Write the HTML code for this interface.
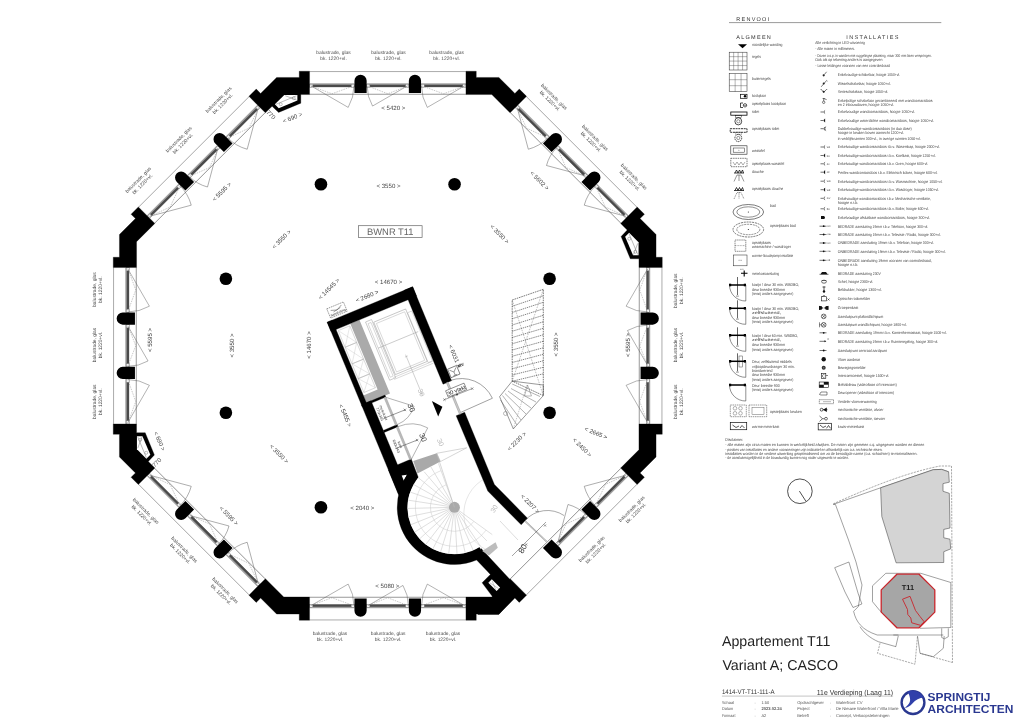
<!DOCTYPE html>
<html><head><meta charset="utf-8"><style>
html,body{margin:0;padding:0;background:#fff;overflow:hidden;width:1018px;height:720px;}
svg{display:block;font-family:"Liberation Sans",sans-serif;text-rendering:geometricPrecision;will-change:transform;}
</style></head><body>
<svg width="1018" height="720" viewBox="0 0 1018 720">
<rect width="1018" height="720" fill="#fff"/>
<g transform="translate(387.75,345.75) rotate(0)">
<line x1="-78.2" y1="-274.2" x2="78.2" y2="-274.2" stroke="#666" stroke-width="0.55"/>
<line x1="-78.2" y1="-251.5" x2="78.2" y2="-251.5" stroke="#444" stroke-width="0.55"/>
<rect x="-78.2" y="-262.45" width="44.900000000000006" height="3.9" fill="#a0a0a0"/>
<rect x="-78.2" y="-261.0" width="44.900000000000006" height="2.3" fill="#4a4a4a"/>
<rect x="-78.2" y="-261.5" width="3.2" height="3.0" fill="#f4f4f4" stroke="#777" stroke-width="0.4"/>
<rect x="-36.5" y="-261.5" width="3.2" height="3.0" fill="#f4f4f4" stroke="#777" stroke-width="0.4"/>
<path d="M-76.70,-259.8 L-39.55,-238.35 A42.90,42.90 0 0 0 -33.80,-259.8" fill="none" stroke="#555" stroke-width="0.45"/>
<path d="M-77.20,-259.8 L-55.75,-252.0 L-34.30,-259.8" fill="none" stroke="#777" stroke-width="0.4" stroke-dasharray="1.5,1"/>
<rect x="-21.1" y="-262.45" width="42.2" height="3.9" fill="#a0a0a0"/>
<rect x="-21.1" y="-261.0" width="42.2" height="2.3" fill="#4a4a4a"/>
<rect x="-21.1" y="-261.5" width="3.2" height="3.0" fill="#f4f4f4" stroke="#777" stroke-width="0.4"/>
<rect x="17.9" y="-261.5" width="3.2" height="3.0" fill="#f4f4f4" stroke="#777" stroke-width="0.4"/>
<path d="M19.60,-259.8 L-15.21,-239.70 A40.20,40.20 0 0 1 -20.60,-259.8" fill="none" stroke="#555" stroke-width="0.45"/>
<path d="M-20.10,-259.8 L0.00,-252.0 L20.10,-259.8" fill="none" stroke="#777" stroke-width="0.4" stroke-dasharray="1.5,1"/>
<rect x="33.3" y="-262.45" width="44.900000000000006" height="3.9" fill="#a0a0a0"/>
<rect x="33.3" y="-261.0" width="44.900000000000006" height="2.3" fill="#4a4a4a"/>
<rect x="33.3" y="-261.5" width="3.2" height="3.0" fill="#f4f4f4" stroke="#777" stroke-width="0.4"/>
<rect x="75.00000000000001" y="-261.5" width="3.2" height="3.0" fill="#f4f4f4" stroke="#777" stroke-width="0.4"/>
<path d="M76.70,-259.8 L39.55,-238.35 A42.90,42.90 0 0 1 33.80,-259.8" fill="none" stroke="#555" stroke-width="0.45"/>
<path d="M34.30,-259.8 L55.75,-252.0 L77.20,-259.8" fill="none" stroke="#777" stroke-width="0.4" stroke-dasharray="1.5,1"/>
<path d="M-33.3,-252.79999999999998 L-33.3,-265 A6.1,6.1 0 0 1 -21.1,-265 L-21.1,-252.79999999999998 Z" fill="#000"/>
<path d="M21.1,-252.79999999999998 L21.1,-265 A6.1,6.1 0 0 1 33.3,-265 L33.3,-252.79999999999998 Z" fill="#000"/>
</g>
<g transform="translate(387.75,345.75) rotate(45)">
<line x1="-78.2" y1="-274.2" x2="78.2" y2="-274.2" stroke="#666" stroke-width="0.55"/>
<line x1="-78.2" y1="-251.5" x2="78.2" y2="-251.5" stroke="#444" stroke-width="0.55"/>
<rect x="-78.2" y="-262.45" width="44.900000000000006" height="3.9" fill="#a0a0a0"/>
<rect x="-78.2" y="-261.0" width="44.900000000000006" height="2.3" fill="#4a4a4a"/>
<rect x="-78.2" y="-261.5" width="3.2" height="3.0" fill="#f4f4f4" stroke="#777" stroke-width="0.4"/>
<rect x="-36.5" y="-261.5" width="3.2" height="3.0" fill="#f4f4f4" stroke="#777" stroke-width="0.4"/>
<path d="M-76.70,-259.8 L-39.55,-238.35 A42.90,42.90 0 0 0 -33.80,-259.8" fill="none" stroke="#555" stroke-width="0.45"/>
<path d="M-77.20,-259.8 L-55.75,-252.0 L-34.30,-259.8" fill="none" stroke="#777" stroke-width="0.4" stroke-dasharray="1.5,1"/>
<rect x="-21.1" y="-262.45" width="42.2" height="3.9" fill="#a0a0a0"/>
<rect x="-21.1" y="-261.0" width="42.2" height="2.3" fill="#4a4a4a"/>
<rect x="-21.1" y="-261.5" width="3.2" height="3.0" fill="#f4f4f4" stroke="#777" stroke-width="0.4"/>
<rect x="17.9" y="-261.5" width="3.2" height="3.0" fill="#f4f4f4" stroke="#777" stroke-width="0.4"/>
<path d="M19.60,-259.8 L-15.21,-239.70 A40.20,40.20 0 0 1 -20.60,-259.8" fill="none" stroke="#555" stroke-width="0.45"/>
<path d="M-20.10,-259.8 L0.00,-252.0 L20.10,-259.8" fill="none" stroke="#777" stroke-width="0.4" stroke-dasharray="1.5,1"/>
<rect x="33.3" y="-262.45" width="44.900000000000006" height="3.9" fill="#a0a0a0"/>
<rect x="33.3" y="-261.0" width="44.900000000000006" height="2.3" fill="#4a4a4a"/>
<rect x="33.3" y="-261.5" width="3.2" height="3.0" fill="#f4f4f4" stroke="#777" stroke-width="0.4"/>
<rect x="75.00000000000001" y="-261.5" width="3.2" height="3.0" fill="#f4f4f4" stroke="#777" stroke-width="0.4"/>
<path d="M76.70,-259.8 L39.55,-238.35 A42.90,42.90 0 0 1 33.80,-259.8" fill="none" stroke="#555" stroke-width="0.45"/>
<path d="M34.30,-259.8 L55.75,-252.0 L77.20,-259.8" fill="none" stroke="#777" stroke-width="0.4" stroke-dasharray="1.5,1"/>
<path d="M-33.3,-252.79999999999998 L-33.3,-265 A6.1,6.1 0 0 1 -21.1,-265 L-21.1,-252.79999999999998 Z" fill="#000"/>
<path d="M21.1,-252.79999999999998 L21.1,-265 A6.1,6.1 0 0 1 33.3,-265 L33.3,-252.79999999999998 Z" fill="#000"/>
</g>
<g transform="translate(387.75,345.75) rotate(90)">
<line x1="-78.2" y1="-274.2" x2="78.2" y2="-274.2" stroke="#666" stroke-width="0.55"/>
<line x1="-78.2" y1="-251.5" x2="78.2" y2="-251.5" stroke="#444" stroke-width="0.55"/>
<rect x="-78.2" y="-262.45" width="44.900000000000006" height="3.9" fill="#a0a0a0"/>
<rect x="-78.2" y="-261.0" width="44.900000000000006" height="2.3" fill="#4a4a4a"/>
<rect x="-78.2" y="-261.5" width="3.2" height="3.0" fill="#f4f4f4" stroke="#777" stroke-width="0.4"/>
<rect x="-36.5" y="-261.5" width="3.2" height="3.0" fill="#f4f4f4" stroke="#777" stroke-width="0.4"/>
<path d="M-76.70,-259.8 L-39.55,-238.35 A42.90,42.90 0 0 0 -33.80,-259.8" fill="none" stroke="#555" stroke-width="0.45"/>
<path d="M-77.20,-259.8 L-55.75,-252.0 L-34.30,-259.8" fill="none" stroke="#777" stroke-width="0.4" stroke-dasharray="1.5,1"/>
<rect x="-21.1" y="-262.45" width="42.2" height="3.9" fill="#a0a0a0"/>
<rect x="-21.1" y="-261.0" width="42.2" height="2.3" fill="#4a4a4a"/>
<rect x="-21.1" y="-261.5" width="3.2" height="3.0" fill="#f4f4f4" stroke="#777" stroke-width="0.4"/>
<rect x="17.9" y="-261.5" width="3.2" height="3.0" fill="#f4f4f4" stroke="#777" stroke-width="0.4"/>
<path d="M19.60,-259.8 L-15.21,-239.70 A40.20,40.20 0 0 1 -20.60,-259.8" fill="none" stroke="#555" stroke-width="0.45"/>
<path d="M-20.10,-259.8 L0.00,-252.0 L20.10,-259.8" fill="none" stroke="#777" stroke-width="0.4" stroke-dasharray="1.5,1"/>
<rect x="33.3" y="-262.45" width="44.900000000000006" height="3.9" fill="#a0a0a0"/>
<rect x="33.3" y="-261.0" width="44.900000000000006" height="2.3" fill="#4a4a4a"/>
<rect x="33.3" y="-261.5" width="3.2" height="3.0" fill="#f4f4f4" stroke="#777" stroke-width="0.4"/>
<rect x="75.00000000000001" y="-261.5" width="3.2" height="3.0" fill="#f4f4f4" stroke="#777" stroke-width="0.4"/>
<path d="M76.70,-259.8 L39.55,-238.35 A42.90,42.90 0 0 1 33.80,-259.8" fill="none" stroke="#555" stroke-width="0.45"/>
<path d="M34.30,-259.8 L55.75,-252.0 L77.20,-259.8" fill="none" stroke="#777" stroke-width="0.4" stroke-dasharray="1.5,1"/>
<path d="M-33.3,-252.79999999999998 L-33.3,-265 A6.1,6.1 0 0 1 -21.1,-265 L-21.1,-252.79999999999998 Z" fill="#000"/>
<path d="M21.1,-252.79999999999998 L21.1,-265 A6.1,6.1 0 0 1 33.3,-265 L33.3,-252.79999999999998 Z" fill="#000"/>
</g>
<g transform="translate(387.75,345.75) rotate(135)">
<line x1="-78.2" y1="-274.2" x2="78.2" y2="-274.2" stroke="#666" stroke-width="0.55"/>
<line x1="-78.2" y1="-251.5" x2="78.2" y2="-251.5" stroke="#444" stroke-width="0.55"/>
<rect x="-78.2" y="-262.45" width="44.900000000000006" height="3.9" fill="#a0a0a0"/>
<rect x="-78.2" y="-261.0" width="44.900000000000006" height="2.3" fill="#4a4a4a"/>
<rect x="-78.2" y="-261.5" width="3.2" height="3.0" fill="#f4f4f4" stroke="#777" stroke-width="0.4"/>
<rect x="-36.5" y="-261.5" width="3.2" height="3.0" fill="#f4f4f4" stroke="#777" stroke-width="0.4"/>
<path d="M-76.70,-259.8 L-39.55,-238.35 A42.90,42.90 0 0 0 -33.80,-259.8" fill="none" stroke="#555" stroke-width="0.45"/>
<path d="M-77.20,-259.8 L-55.75,-252.0 L-34.30,-259.8" fill="none" stroke="#777" stroke-width="0.4" stroke-dasharray="1.5,1"/>
<rect x="-21.1" y="-262.45" width="42.2" height="3.9" fill="#a0a0a0"/>
<rect x="-21.1" y="-261.0" width="42.2" height="2.3" fill="#4a4a4a"/>
<rect x="-21.1" y="-261.5" width="3.2" height="3.0" fill="#f4f4f4" stroke="#777" stroke-width="0.4"/>
<rect x="17.9" y="-261.5" width="3.2" height="3.0" fill="#f4f4f4" stroke="#777" stroke-width="0.4"/>
<path d="M19.60,-259.8 L-15.21,-239.70 A40.20,40.20 0 0 1 -20.60,-259.8" fill="none" stroke="#555" stroke-width="0.45"/>
<path d="M-20.10,-259.8 L0.00,-252.0 L20.10,-259.8" fill="none" stroke="#777" stroke-width="0.4" stroke-dasharray="1.5,1"/>
<path d="M-33.3,-252.79999999999998 L-33.3,-265 A6.1,6.1 0 0 1 -21.1,-265 L-21.1,-252.79999999999998 Z" fill="#000"/>
<path d="M21.1,-252.79999999999998 L21.1,-265 A6.1,6.1 0 0 1 33.3,-265 L33.3,-252.79999999999998 Z" fill="#000"/>
</g>
<g transform="translate(387.75,345.75) rotate(180)">
<line x1="-78.2" y1="-274.2" x2="78.2" y2="-274.2" stroke="#666" stroke-width="0.55"/>
<line x1="-78.2" y1="-251.5" x2="78.2" y2="-251.5" stroke="#444" stroke-width="0.55"/>
<rect x="-78.2" y="-262.45" width="44.900000000000006" height="3.9" fill="#a0a0a0"/>
<rect x="-78.2" y="-261.0" width="44.900000000000006" height="2.3" fill="#4a4a4a"/>
<rect x="-78.2" y="-261.5" width="3.2" height="3.0" fill="#f4f4f4" stroke="#777" stroke-width="0.4"/>
<rect x="-36.5" y="-261.5" width="3.2" height="3.0" fill="#f4f4f4" stroke="#777" stroke-width="0.4"/>
<path d="M-76.70,-259.8 L-39.55,-238.35 A42.90,42.90 0 0 0 -33.80,-259.8" fill="none" stroke="#555" stroke-width="0.45"/>
<path d="M-77.20,-259.8 L-55.75,-252.0 L-34.30,-259.8" fill="none" stroke="#777" stroke-width="0.4" stroke-dasharray="1.5,1"/>
<rect x="-21.1" y="-262.45" width="42.2" height="3.9" fill="#a0a0a0"/>
<rect x="-21.1" y="-261.0" width="42.2" height="2.3" fill="#4a4a4a"/>
<rect x="-21.1" y="-261.5" width="3.2" height="3.0" fill="#f4f4f4" stroke="#777" stroke-width="0.4"/>
<rect x="17.9" y="-261.5" width="3.2" height="3.0" fill="#f4f4f4" stroke="#777" stroke-width="0.4"/>
<path d="M19.60,-259.8 L-15.21,-239.70 A40.20,40.20 0 0 1 -20.60,-259.8" fill="none" stroke="#555" stroke-width="0.45"/>
<path d="M-20.10,-259.8 L0.00,-252.0 L20.10,-259.8" fill="none" stroke="#777" stroke-width="0.4" stroke-dasharray="1.5,1"/>
<rect x="33.3" y="-262.45" width="44.900000000000006" height="3.9" fill="#a0a0a0"/>
<rect x="33.3" y="-261.0" width="44.900000000000006" height="2.3" fill="#4a4a4a"/>
<rect x="33.3" y="-261.5" width="3.2" height="3.0" fill="#f4f4f4" stroke="#777" stroke-width="0.4"/>
<rect x="75.00000000000001" y="-261.5" width="3.2" height="3.0" fill="#f4f4f4" stroke="#777" stroke-width="0.4"/>
<path d="M76.70,-259.8 L39.55,-238.35 A42.90,42.90 0 0 1 33.80,-259.8" fill="none" stroke="#555" stroke-width="0.45"/>
<path d="M34.30,-259.8 L55.75,-252.0 L77.20,-259.8" fill="none" stroke="#777" stroke-width="0.4" stroke-dasharray="1.5,1"/>
<path d="M-33.3,-252.79999999999998 L-33.3,-265 A6.1,6.1 0 0 1 -21.1,-265 L-21.1,-252.79999999999998 Z" fill="#000"/>
<path d="M21.1,-252.79999999999998 L21.1,-265 A6.1,6.1 0 0 1 33.3,-265 L33.3,-252.79999999999998 Z" fill="#000"/>
</g>
<g transform="translate(387.75,345.75) rotate(225)">
<line x1="-78.2" y1="-274.2" x2="78.2" y2="-274.2" stroke="#666" stroke-width="0.55"/>
<line x1="-78.2" y1="-251.5" x2="78.2" y2="-251.5" stroke="#444" stroke-width="0.55"/>
<rect x="-78.2" y="-262.45" width="44.900000000000006" height="3.9" fill="#a0a0a0"/>
<rect x="-78.2" y="-261.0" width="44.900000000000006" height="2.3" fill="#4a4a4a"/>
<rect x="-78.2" y="-261.5" width="3.2" height="3.0" fill="#f4f4f4" stroke="#777" stroke-width="0.4"/>
<rect x="-36.5" y="-261.5" width="3.2" height="3.0" fill="#f4f4f4" stroke="#777" stroke-width="0.4"/>
<path d="M-76.70,-259.8 L-39.55,-238.35 A42.90,42.90 0 0 0 -33.80,-259.8" fill="none" stroke="#555" stroke-width="0.45"/>
<path d="M-77.20,-259.8 L-55.75,-252.0 L-34.30,-259.8" fill="none" stroke="#777" stroke-width="0.4" stroke-dasharray="1.5,1"/>
<rect x="-21.1" y="-262.45" width="42.2" height="3.9" fill="#a0a0a0"/>
<rect x="-21.1" y="-261.0" width="42.2" height="2.3" fill="#4a4a4a"/>
<rect x="-21.1" y="-261.5" width="3.2" height="3.0" fill="#f4f4f4" stroke="#777" stroke-width="0.4"/>
<rect x="17.9" y="-261.5" width="3.2" height="3.0" fill="#f4f4f4" stroke="#777" stroke-width="0.4"/>
<path d="M19.60,-259.8 L-15.21,-239.70 A40.20,40.20 0 0 1 -20.60,-259.8" fill="none" stroke="#555" stroke-width="0.45"/>
<path d="M-20.10,-259.8 L0.00,-252.0 L20.10,-259.8" fill="none" stroke="#777" stroke-width="0.4" stroke-dasharray="1.5,1"/>
<rect x="33.3" y="-262.45" width="44.900000000000006" height="3.9" fill="#a0a0a0"/>
<rect x="33.3" y="-261.0" width="44.900000000000006" height="2.3" fill="#4a4a4a"/>
<rect x="33.3" y="-261.5" width="3.2" height="3.0" fill="#f4f4f4" stroke="#777" stroke-width="0.4"/>
<rect x="75.00000000000001" y="-261.5" width="3.2" height="3.0" fill="#f4f4f4" stroke="#777" stroke-width="0.4"/>
<path d="M76.70,-259.8 L39.55,-238.35 A42.90,42.90 0 0 1 33.80,-259.8" fill="none" stroke="#555" stroke-width="0.45"/>
<path d="M34.30,-259.8 L55.75,-252.0 L77.20,-259.8" fill="none" stroke="#777" stroke-width="0.4" stroke-dasharray="1.5,1"/>
<path d="M-33.3,-252.79999999999998 L-33.3,-265 A6.1,6.1 0 0 1 -21.1,-265 L-21.1,-252.79999999999998 Z" fill="#000"/>
<path d="M21.1,-252.79999999999998 L21.1,-265 A6.1,6.1 0 0 1 33.3,-265 L33.3,-252.79999999999998 Z" fill="#000"/>
</g>
<g transform="translate(387.75,345.75) rotate(270)">
<line x1="-78.2" y1="-274.2" x2="78.2" y2="-274.2" stroke="#666" stroke-width="0.55"/>
<line x1="-78.2" y1="-251.5" x2="78.2" y2="-251.5" stroke="#444" stroke-width="0.55"/>
<rect x="-78.2" y="-262.45" width="44.900000000000006" height="3.9" fill="#a0a0a0"/>
<rect x="-78.2" y="-261.0" width="44.900000000000006" height="2.3" fill="#4a4a4a"/>
<rect x="-78.2" y="-261.5" width="3.2" height="3.0" fill="#f4f4f4" stroke="#777" stroke-width="0.4"/>
<rect x="-36.5" y="-261.5" width="3.2" height="3.0" fill="#f4f4f4" stroke="#777" stroke-width="0.4"/>
<path d="M-76.70,-259.8 L-39.55,-238.35 A42.90,42.90 0 0 0 -33.80,-259.8" fill="none" stroke="#555" stroke-width="0.45"/>
<path d="M-77.20,-259.8 L-55.75,-252.0 L-34.30,-259.8" fill="none" stroke="#777" stroke-width="0.4" stroke-dasharray="1.5,1"/>
<rect x="-21.1" y="-262.45" width="42.2" height="3.9" fill="#a0a0a0"/>
<rect x="-21.1" y="-261.0" width="42.2" height="2.3" fill="#4a4a4a"/>
<rect x="-21.1" y="-261.5" width="3.2" height="3.0" fill="#f4f4f4" stroke="#777" stroke-width="0.4"/>
<rect x="17.9" y="-261.5" width="3.2" height="3.0" fill="#f4f4f4" stroke="#777" stroke-width="0.4"/>
<path d="M19.60,-259.8 L-15.21,-239.70 A40.20,40.20 0 0 1 -20.60,-259.8" fill="none" stroke="#555" stroke-width="0.45"/>
<path d="M-20.10,-259.8 L0.00,-252.0 L20.10,-259.8" fill="none" stroke="#777" stroke-width="0.4" stroke-dasharray="1.5,1"/>
<rect x="33.3" y="-262.45" width="44.900000000000006" height="3.9" fill="#a0a0a0"/>
<rect x="33.3" y="-261.0" width="44.900000000000006" height="2.3" fill="#4a4a4a"/>
<rect x="33.3" y="-261.5" width="3.2" height="3.0" fill="#f4f4f4" stroke="#777" stroke-width="0.4"/>
<rect x="75.00000000000001" y="-261.5" width="3.2" height="3.0" fill="#f4f4f4" stroke="#777" stroke-width="0.4"/>
<path d="M76.70,-259.8 L39.55,-238.35 A42.90,42.90 0 0 1 33.80,-259.8" fill="none" stroke="#555" stroke-width="0.45"/>
<path d="M34.30,-259.8 L55.75,-252.0 L77.20,-259.8" fill="none" stroke="#777" stroke-width="0.4" stroke-dasharray="1.5,1"/>
<path d="M-33.3,-252.79999999999998 L-33.3,-265 A6.1,6.1 0 0 1 -21.1,-265 L-21.1,-252.79999999999998 Z" fill="#000"/>
<path d="M21.1,-252.79999999999998 L21.1,-265 A6.1,6.1 0 0 1 33.3,-265 L33.3,-252.79999999999998 Z" fill="#000"/>
</g>
<g transform="translate(387.75,345.75) rotate(315)">
<line x1="-78.2" y1="-274.2" x2="78.2" y2="-274.2" stroke="#666" stroke-width="0.55"/>
<line x1="-78.2" y1="-251.5" x2="78.2" y2="-251.5" stroke="#444" stroke-width="0.55"/>
<rect x="-78.2" y="-262.45" width="44.900000000000006" height="3.9" fill="#a0a0a0"/>
<rect x="-78.2" y="-261.0" width="44.900000000000006" height="2.3" fill="#4a4a4a"/>
<rect x="-78.2" y="-261.5" width="3.2" height="3.0" fill="#f4f4f4" stroke="#777" stroke-width="0.4"/>
<rect x="-36.5" y="-261.5" width="3.2" height="3.0" fill="#f4f4f4" stroke="#777" stroke-width="0.4"/>
<path d="M-76.70,-259.8 L-39.55,-238.35 A42.90,42.90 0 0 0 -33.80,-259.8" fill="none" stroke="#555" stroke-width="0.45"/>
<path d="M-77.20,-259.8 L-55.75,-252.0 L-34.30,-259.8" fill="none" stroke="#777" stroke-width="0.4" stroke-dasharray="1.5,1"/>
<rect x="-21.1" y="-262.45" width="42.2" height="3.9" fill="#a0a0a0"/>
<rect x="-21.1" y="-261.0" width="42.2" height="2.3" fill="#4a4a4a"/>
<rect x="-21.1" y="-261.5" width="3.2" height="3.0" fill="#f4f4f4" stroke="#777" stroke-width="0.4"/>
<rect x="17.9" y="-261.5" width="3.2" height="3.0" fill="#f4f4f4" stroke="#777" stroke-width="0.4"/>
<path d="M19.60,-259.8 L-15.21,-239.70 A40.20,40.20 0 0 1 -20.60,-259.8" fill="none" stroke="#555" stroke-width="0.45"/>
<path d="M-20.10,-259.8 L0.00,-252.0 L20.10,-259.8" fill="none" stroke="#777" stroke-width="0.4" stroke-dasharray="1.5,1"/>
<rect x="33.3" y="-262.45" width="44.900000000000006" height="3.9" fill="#a0a0a0"/>
<rect x="33.3" y="-261.0" width="44.900000000000006" height="2.3" fill="#4a4a4a"/>
<rect x="33.3" y="-261.5" width="3.2" height="3.0" fill="#f4f4f4" stroke="#777" stroke-width="0.4"/>
<rect x="75.00000000000001" y="-261.5" width="3.2" height="3.0" fill="#f4f4f4" stroke="#777" stroke-width="0.4"/>
<path d="M76.70,-259.8 L39.55,-238.35 A42.90,42.90 0 0 1 33.80,-259.8" fill="none" stroke="#555" stroke-width="0.45"/>
<path d="M34.30,-259.8 L55.75,-252.0 L77.20,-259.8" fill="none" stroke="#777" stroke-width="0.4" stroke-dasharray="1.5,1"/>
<path d="M-33.3,-252.79999999999998 L-33.3,-265 A6.1,6.1 0 0 1 -21.1,-265 L-21.1,-252.79999999999998 Z" fill="#000"/>
<path d="M21.1,-252.79999999999998 L21.1,-265 A6.1,6.1 0 0 1 33.3,-265 L33.3,-252.79999999999998 Z" fill="#000"/>
</g>
<polygon points="465.95,71.25 476.25,71.25 476.25,77.45 498.88,77.45 514.89,93.45 519.27,89.07 526.56,96.35 510.08,112.83 491.80,94.55 465.95,94.55" fill="#000" stroke="#000" stroke-width="0.3"/>
<polygon points="637.15,206.94 644.43,214.23 640.05,218.61 656.05,234.62 656.05,257.25 662.25,257.25 662.25,267.55 638.95,267.55 638.95,258.80 630.30,258.80 621.10,236.60 627.20,230.10 620.67,223.42" fill="#000" stroke="#000" stroke-width="0.3"/>
<polygon points="662.25,423.95 662.25,434.25 656.05,434.25 656.05,456.88 640.05,472.89 644.43,477.27 637.15,484.56 620.67,468.08 638.95,449.80 638.95,423.95" fill="#000" stroke="#000" stroke-width="0.3"/>
<polygon points="526.56,595.15 519.27,602.43 514.89,598.05 498.88,614.05 476.25,614.05 476.25,620.25 465.95,620.25 465.95,596.95 491.80,596.95 510.08,578.67" fill="#000" stroke="#000" stroke-width="0.3"/>
<polygon points="309.55,620.25 299.25,620.25 299.25,614.05 276.62,614.05 260.61,598.05 256.23,602.43 248.94,595.15 265.42,578.67 283.70,596.95 309.55,596.95" fill="#000" stroke="#000" stroke-width="0.3"/>
<polygon points="138.35,484.56 131.07,477.27 135.45,472.89 119.45,456.88 119.45,434.25 113.25,434.25 113.25,423.95 136.55,423.95 136.55,432.70 145.20,432.70 154.40,454.90 148.30,461.40 154.83,468.08" fill="#000" stroke="#000" stroke-width="0.3"/>
<polygon points="113.25,267.55 113.25,257.25 119.45,257.25 119.45,234.62 135.45,218.61 131.07,214.23 138.35,206.94 154.83,223.42 136.55,241.70 136.55,267.55" fill="#000" stroke="#000" stroke-width="0.3"/>
<polygon points="248.94,96.35 256.23,89.07 260.61,93.45 276.62,77.45 299.25,77.45 299.25,71.25 309.55,71.25 309.55,94.55 300.80,94.55 300.80,103.20 278.60,112.40 272.10,106.30 265.42,112.83" fill="#000" stroke="#000" stroke-width="0.3"/>
<g transform="translate(387.75,345.75) rotate(0)">
<polygon points="-103.45,-250.80 -90.40,-250.80 -90.40,-245.30 -109.00,-237.40 -112.90,-241.40" fill="#fff"/>
<path d="M-102.45,-250.00 L-91.20,-245.80 M-91.20,-250.00 L-111.90,-241.40" stroke="#666" stroke-width="0.45" fill="none"/>
<circle cx="-94" cy="-247.5" r="1.5" fill="none" stroke="#666" stroke-width="0.4"/>
<circle cx="-107" cy="-241.5" r="1.5" fill="none" stroke="#666" stroke-width="0.4"/>
</g>
<text transform="translate(271.00,114.70) rotate(45)" x="0" y="2.1" font-size="6.0" fill="#444" text-anchor="middle">770</text>
<text transform="translate(292.40,117.70) rotate(-22.5)" x="0" y="2.1" font-size="6.0" fill="#444" text-anchor="middle">&lt; 690 &gt;</text>
<g transform="translate(387.75,345.75) rotate(90)">
<polygon points="-103.45,-250.80 -90.40,-250.80 -90.40,-245.30 -109.00,-237.40 -112.90,-241.40" fill="#fff"/>
<path d="M-102.45,-250.00 L-91.20,-245.80 M-91.20,-250.00 L-111.90,-241.40" stroke="#666" stroke-width="0.45" fill="none"/>
<circle cx="-94" cy="-247.5" r="1.5" fill="none" stroke="#666" stroke-width="0.4"/>
<circle cx="-107" cy="-241.5" r="1.5" fill="none" stroke="#666" stroke-width="0.4"/>
</g>
<g transform="translate(387.75,345.75) rotate(270)">
<polygon points="-103.45,-250.80 -90.40,-250.80 -90.40,-245.30 -109.00,-237.40 -112.90,-241.40" fill="#fff"/>
<path d="M-102.45,-250.00 L-91.20,-245.80 M-91.20,-250.00 L-111.90,-241.40" stroke="#666" stroke-width="0.45" fill="none"/>
<circle cx="-94" cy="-247.5" r="1.5" fill="none" stroke="#666" stroke-width="0.4"/>
<circle cx="-107" cy="-241.5" r="1.5" fill="none" stroke="#666" stroke-width="0.4"/>
</g>
<text transform="translate(156.70,462.50) rotate(-45)" x="0" y="2.1" font-size="6.0" fill="#444" text-anchor="middle">770</text>
<text transform="translate(159.70,441.10) rotate(67.5)" x="0" y="2.1" font-size="6.0" fill="#444" text-anchor="middle">&lt; 690 &gt;</text>
<g transform="translate(333.50,54.95) rotate(0)" font-size="4.9" fill="#4a4a4a" text-anchor="middle"><text x="0" y="-1.3">balustrade, glas</text><text x="0" y="4.6">bk. 1220+vl.</text></g>
<g transform="translate(388.40,54.95) rotate(0)" font-size="4.9" fill="#4a4a4a" text-anchor="middle"><text x="0" y="-1.3">balustrade, glas</text><text x="0" y="4.6">bk. 1220+vl.</text></g>
<g transform="translate(446.60,54.95) rotate(0)" font-size="4.9" fill="#4a4a4a" text-anchor="middle"><text x="0" y="-1.3">balustrade, glas</text><text x="0" y="4.6">bk. 1220+vl.</text></g>
<g transform="translate(552.01,98.76) rotate(45)" font-size="4.9" fill="#4a4a4a" text-anchor="middle"><text x="0" y="-1.3">balustrade, glas</text><text x="0" y="4.6">bk. 1220+vl.</text></g>
<g transform="translate(593.02,139.77) rotate(45)" font-size="4.9" fill="#4a4a4a" text-anchor="middle"><text x="0" y="-1.3">balustrade, glas</text><text x="0" y="4.6">bk. 1220+vl.</text></g>
<g transform="translate(631.91,178.66) rotate(45)" font-size="4.9" fill="#4a4a4a" text-anchor="middle"><text x="0" y="-1.3">balustrade, glas</text><text x="0" y="4.6">bk. 1220+vl.</text></g>
<g transform="translate(678.55,290.70) rotate(-90)" font-size="4.9" fill="#4a4a4a" text-anchor="middle"><text x="0" y="-1.3">balustrade, glas</text><text x="0" y="4.6">bk. 1220+vl.</text></g>
<g transform="translate(678.55,345.00) rotate(-90)" font-size="4.9" fill="#4a4a4a" text-anchor="middle"><text x="0" y="-1.3">balustrade, glas</text><text x="0" y="4.6">bk. 1220+vl.</text></g>
<g transform="translate(678.55,401.70) rotate(-90)" font-size="4.9" fill="#4a4a4a" text-anchor="middle"><text x="0" y="-1.3">balustrade, glas</text><text x="0" y="4.6">bk. 1220+vl.</text></g>
<g transform="translate(633.75,511.00) rotate(-45)" font-size="4.9" fill="#4a4a4a" text-anchor="middle"><text x="0" y="-1.3">balustrade, glas</text><text x="0" y="4.6">bk. 1220+vl.</text></g>
<g transform="translate(593.73,551.02) rotate(-45)" font-size="4.9" fill="#4a4a4a" text-anchor="middle"><text x="0" y="-1.3">balustrade, glas</text><text x="0" y="4.6">bk. 1220+vl.</text></g>
<g transform="translate(443.00,636.55) rotate(0)" font-size="4.9" fill="#4a4a4a" text-anchor="middle"><text x="0" y="-1.3">balustrade, glas</text><text x="0" y="4.6">bk. 1220+vl.</text></g>
<g transform="translate(388.10,636.55) rotate(0)" font-size="4.9" fill="#4a4a4a" text-anchor="middle"><text x="0" y="-1.3">balustrade, glas</text><text x="0" y="4.6">bk. 1220+vl.</text></g>
<g transform="translate(329.90,636.55) rotate(0)" font-size="4.9" fill="#4a4a4a" text-anchor="middle"><text x="0" y="-1.3">balustrade, glas</text><text x="0" y="4.6">bk. 1220+vl.</text></g>
<g transform="translate(223.21,592.46) rotate(45)" font-size="4.9" fill="#4a4a4a" text-anchor="middle"><text x="0" y="-1.3">balustrade, glas</text><text x="0" y="4.6">bk. 1220+vl.</text></g>
<g transform="translate(182.41,551.66) rotate(45)" font-size="4.9" fill="#4a4a4a" text-anchor="middle"><text x="0" y="-1.3">balustrade, glas</text><text x="0" y="4.6">bk. 1220+vl.</text></g>
<g transform="translate(143.80,513.05) rotate(45)" font-size="4.9" fill="#4a4a4a" text-anchor="middle"><text x="0" y="-1.3">balustrade, glas</text><text x="0" y="4.6">bk. 1220+vl.</text></g>
<g transform="translate(96.95,401.70) rotate(-90)" font-size="4.9" fill="#4a4a4a" text-anchor="middle"><text x="0" y="-1.3">balustrade, glas</text><text x="0" y="4.6">bk. 1220+vl.</text></g>
<g transform="translate(96.95,345.00) rotate(-90)" font-size="4.9" fill="#4a4a4a" text-anchor="middle"><text x="0" y="-1.3">balustrade, glas</text><text x="0" y="4.6">bk. 1220+vl.</text></g>
<g transform="translate(96.95,289.60) rotate(-90)" font-size="4.9" fill="#4a4a4a" text-anchor="middle"><text x="0" y="-1.3">balustrade, glas</text><text x="0" y="4.6">bk. 1220+vl.</text></g>
<g transform="translate(140.26,181.98) rotate(-45)" font-size="4.9" fill="#4a4a4a" text-anchor="middle"><text x="0" y="-1.3">balustrade, glas</text><text x="0" y="4.6">bk. 1220+vl.</text></g>
<g transform="translate(180.85,141.40) rotate(-45)" font-size="4.9" fill="#4a4a4a" text-anchor="middle"><text x="0" y="-1.3">balustrade, glas</text><text x="0" y="4.6">bk. 1220+vl.</text></g>
<g transform="translate(220.59,101.66) rotate(-45)" font-size="4.9" fill="#4a4a4a" text-anchor="middle"><text x="0" y="-1.3">balustrade, glas</text><text x="0" y="4.6">bk. 1220+vl.</text></g>
<circle cx="320.95" cy="184.30" r="6.3" fill="#000"/>
<circle cx="454.55" cy="184.30" r="6.3" fill="#000"/>
<circle cx="225.90" cy="278.70" r="6.3" fill="#000"/>
<circle cx="549.60" cy="278.70" r="6.3" fill="#000"/>
<circle cx="225.90" cy="412.80" r="6.3" fill="#000"/>
<circle cx="549.60" cy="412.80" r="6.3" fill="#000"/>
<circle cx="320.95" cy="507.20" r="6.3" fill="#000"/>
<text transform="translate(393.30,107.80) rotate(0)" x="0" y="2.20" font-size="6.1" fill="#444" text-anchor="middle">&lt; 5420 &gt;</text>
<text transform="translate(539.70,180.50) rotate(45)" x="0" y="2.20" font-size="6.1" fill="#444" text-anchor="middle">&lt; 5602 &gt;</text>
<text transform="translate(628.00,345.00) rotate(-90)" x="0" y="2.20" font-size="6.1" fill="#444" text-anchor="middle">&lt; 5595 &gt;</text>
<text transform="translate(387.40,585.60) rotate(0)" x="0" y="2.20" font-size="6.1" fill="#444" text-anchor="middle">&lt; 5080 &gt;</text>
<text transform="translate(229.00,515.60) rotate(45)" x="0" y="2.20" font-size="6.1" fill="#444" text-anchor="middle">&lt; 5595 &gt;</text>
<text transform="translate(150.00,340.00) rotate(-90)" x="0" y="2.20" font-size="6.1" fill="#444" text-anchor="middle">&lt; 5595 &gt;</text>
<text transform="translate(221.60,191.70) rotate(-45)" x="0" y="2.20" font-size="6.1" fill="#444" text-anchor="middle">&lt; 5595 &gt;</text>
<text transform="translate(388.50,185.40) rotate(0)" x="0" y="2.20" font-size="6.1" fill="#444" text-anchor="middle">&lt; 3550 &gt;</text>
<text transform="translate(281.40,239.10) rotate(-45)" x="0" y="2.20" font-size="6.1" fill="#444" text-anchor="middle">&lt; 3550 &gt;</text>
<text transform="translate(499.70,233.90) rotate(45)" x="0" y="2.20" font-size="6.1" fill="#444" text-anchor="middle">&lt; 3550 &gt;</text>
<text transform="translate(388.50,281.70) rotate(0)" x="0" y="2.20" font-size="6.1" fill="#444" text-anchor="middle">&lt; 14670 &gt;</text>
<text transform="translate(328.80,288.80) rotate(-45)" x="0" y="2.20" font-size="6.1" fill="#444" text-anchor="middle">&lt; 14545 &gt;</text>
<text transform="translate(367.00,296.00) rotate(-22.5)" x="0" y="2.20" font-size="6.1" fill="#444" text-anchor="middle">&lt; 2680 &gt;</text>
<text transform="translate(308.80,345.00) rotate(-90)" x="0" y="2.20" font-size="6.1" fill="#444" text-anchor="middle">&lt; 14670 &gt;</text>
<text transform="translate(279.20,453.70) rotate(45)" x="0" y="2.20" font-size="6.1" fill="#444" text-anchor="middle">&lt; 3550 &gt;</text>
<text transform="translate(362.30,507.90) rotate(0)" x="0" y="2.20" font-size="6.1" fill="#444" text-anchor="middle">&lt; 2040 &gt;</text>
<text transform="translate(345.50,415.40) rotate(67.5)" x="0" y="2.20" font-size="6.1" fill="#444" text-anchor="middle">&lt; 5455 &gt;</text>
<text transform="translate(555.60,344.40) rotate(-90)" x="0" y="2.20" font-size="6.1" fill="#444" text-anchor="middle">&lt; 3550 &gt;</text>
<text transform="translate(231.90,345.50) rotate(-90)" x="0" y="2.20" font-size="6.1" fill="#444" text-anchor="middle">&lt; 3550 &gt;</text>
<text transform="translate(516.60,441.20) rotate(-45)" x="0" y="2.20" font-size="6.1" fill="#444" text-anchor="middle">&lt; 2230 &gt;</text>
<text transform="translate(596.00,433.00) rotate(22.5)" x="0" y="2.20" font-size="6.1" fill="#444" text-anchor="middle">&lt; 2665 &gt;</text>
<text transform="translate(582.30,447.30) rotate(45)" x="0" y="2.20" font-size="6.1" fill="#444" text-anchor="middle">&lt; 2450 &gt;</text>
<text transform="translate(530.40,503.80) rotate(45)" x="0" y="2.20" font-size="6.1" fill="#444" text-anchor="middle">&lt; 2207 &gt;</text>
<text transform="translate(454.90,356.00) rotate(67.5)" x="0" y="2.20" font-size="6.1" fill="#444" text-anchor="middle">&lt; 6031 &gt;</text>
<rect x="358.6" y="225.7" width="63.5" height="11.9" fill="none" stroke="#666" stroke-width="0.7"/>
<text x="390.3" y="235.0" font-size="9.4" fill="#666" text-anchor="middle">BWNR T11</text>
<polygon points="350.32,323.66 359.47,319.88 390.00,393.60 366.63,403.28 363.38,395.43 377.61,389.54" fill="#aaa"/>
<polygon points="338.26,330.61 349.81,325.82 356.70,342.45 345.15,347.24" fill="none" stroke="#aaa" stroke-width="0.45"/>
<line x1="338.26" y1="330.61" x2="356.70" y2="342.45" stroke="#bbb" stroke-width="0.35"/>
<line x1="349.81" y1="325.82" x2="345.15" y2="347.24" stroke="#bbb" stroke-width="0.35"/>
<polygon points="345.15,347.24 356.70,342.45 363.58,359.08 352.04,363.87" fill="none" stroke="#aaa" stroke-width="0.45"/>
<line x1="345.15" y1="347.24" x2="363.58" y2="359.08" stroke="#bbb" stroke-width="0.35"/>
<line x1="356.70" y1="342.45" x2="352.04" y2="363.87" stroke="#bbb" stroke-width="0.35"/>
<polygon points="352.04,363.87 363.58,359.08 369.71,373.87 358.16,378.65" fill="none" stroke="#aaa" stroke-width="0.45"/>
<line x1="352.04" y1="363.87" x2="369.71" y2="373.87" stroke="#bbb" stroke-width="0.35"/>
<line x1="363.58" y1="359.08" x2="358.16" y2="378.65" stroke="#bbb" stroke-width="0.35"/>
<polygon points="358.16,378.65 369.71,373.87 375.45,387.72 363.90,392.51" fill="none" stroke="#aaa" stroke-width="0.45"/>
<line x1="358.16" y1="378.65" x2="375.45" y2="387.72" stroke="#bbb" stroke-width="0.35"/>
<line x1="369.71" y1="373.87" x2="363.90" y2="392.51" stroke="#bbb" stroke-width="0.35"/>
<polygon points="365.55,322.01 371.55,319.52 395.66,377.73 389.66,380.22" fill="none" stroke="#999" stroke-width="0.5"/>
<polygon points="368.07,323.67 370.94,322.48 393.13,376.07 390.27,377.26" fill="none" stroke="#aaa" stroke-width="0.45"/>
<polygon points="373.74,322.19 405.61,308.99 427.31,361.37 395.44,374.57" fill="none" stroke="#999" stroke-width="0.55"/>
<polygon points="376.43,323.46 404.61,311.79 424.70,360.29 396.52,371.96" fill="none" stroke="#aaa" stroke-width="0.45"/>
<line x1="378.03" y1="348.23" x2="418.22" y2="331.58" stroke="#999" stroke-width="0.5"/>
<polygon points="407.50,312.75 411.75,310.99 432.41,360.88 428.16,362.64" fill="none" stroke="#aaa" stroke-width="0.45"/>
<line x1="393.43" y1="377.57" x2="432.70" y2="361.31" stroke="#aaa" stroke-width="0.45"/>
<line x1="394.20" y1="379.42" x2="433.46" y2="363.15" stroke="#aaa" stroke-width="0.45"/>
<line x1="405.59" y1="354.67" x2="422.43" y2="395.32" stroke="#999" stroke-width="0.45"/>
<line x1="404.97" y1="357.09" x2="407.74" y2="355.95" stroke="#999" stroke-width="0.45"/>
<line x1="420.28" y1="394.05" x2="423.05" y2="392.90" stroke="#999" stroke-width="0.45"/>
<polygon points="327.20,322.20 412.66,286.80 416.56,296.23 331.10,331.62" fill="#000" stroke="#000" stroke-width="0.3"/>
<polygon points="327.20,322.20 332.19,320.13 367.24,404.76 362.25,406.83" fill="#000" stroke="#000" stroke-width="0.3"/>
<polygon points="361.41,404.79 371.02,400.81 407.99,490.06 398.38,494.04" fill="#000" stroke="#000" stroke-width="0.3"/>
<polygon points="366.40,402.73 384.97,395.04 385.81,397.07 367.24,404.76" fill="#000" stroke="#000" stroke-width="0.3"/>
<polygon points="383.27,430.38 397.22,424.60 398.06,426.63 384.11,432.41" fill="#000" stroke="#000" stroke-width="0.3"/>
<polygon points="395.28,465.67 411.27,459.05 418.23,477.16 409.15,493.91 400.67,499.58 388.43,470.02" fill="#000" stroke="#000" stroke-width="0.3"/>
<polygon points="401.7,475.5 406.9,474.8 403.8,480.8" fill="#fff"/>
<path d="M484.71,555.81 A57.2,57.2 0 0 1 409.33,472.08 L417.36,478.36 A47.0,47.0 0 0 0 479.31,547.16 Z" fill="#000" stroke="#000" stroke-width="0.3"/>
<circle cx="454.4" cy="507.3" r="46.8" fill="#fff"/>
<polygon points="413.3,461.1 436.7,453.3 440.5,461.5 417.5,473.5" fill="#a9a9a9"/>
<polygon points="436.7,453.3 466.7,447.8 440.5,461.5" fill="none" stroke="#bbb" stroke-width="0.6"/>
<line x1="452.52" y1="502.13" x2="438.43" y2="463.42" stroke="#c4c4c4" stroke-width="0.55"/>
<line x1="451.63" y1="502.55" x2="430.91" y2="466.94" stroke="#c4c4c4" stroke-width="0.55"/>
<line x1="450.84" y1="503.11" x2="424.13" y2="471.74" stroke="#c4c4c4" stroke-width="0.55"/>
<line x1="450.15" y1="503.81" x2="418.31" y2="477.66" stroke="#c4c4c4" stroke-width="0.55"/>
<line x1="449.60" y1="504.62" x2="413.63" y2="484.52" stroke="#c4c4c4" stroke-width="0.55"/>
<line x1="449.20" y1="505.51" x2="410.24" y2="492.10" stroke="#c4c4c4" stroke-width="0.55"/>
<line x1="448.96" y1="506.46" x2="408.25" y2="500.16" stroke="#c4c4c4" stroke-width="0.55"/>
<line x1="448.90" y1="507.43" x2="407.71" y2="508.44" stroke="#c4c4c4" stroke-width="0.55"/>
<line x1="449.01" y1="508.41" x2="408.65" y2="516.69" stroke="#c4c4c4" stroke-width="0.55"/>
<line x1="449.29" y1="509.34" x2="411.04" y2="524.64" stroke="#c4c4c4" stroke-width="0.55"/>
<line x1="449.74" y1="510.21" x2="414.80" y2="532.05" stroke="#c4c4c4" stroke-width="0.55"/>
<line x1="450.33" y1="510.99" x2="419.80" y2="538.67" stroke="#c4c4c4" stroke-width="0.55"/>
<line x1="451.04" y1="511.66" x2="425.91" y2="544.30" stroke="#c4c4c4" stroke-width="0.55"/>
<line x1="451.87" y1="512.18" x2="432.91" y2="548.76" stroke="#c4c4c4" stroke-width="0.55"/>
<line x1="452.77" y1="512.55" x2="440.59" y2="551.91" stroke="#c4c4c4" stroke-width="0.55"/>
<line x1="453.73" y1="512.76" x2="448.71" y2="553.65" stroke="#c4c4c4" stroke-width="0.55"/>
<line x1="454.71" y1="512.79" x2="457.01" y2="553.93" stroke="#c4c4c4" stroke-width="0.55"/>
<line x1="455.67" y1="512.65" x2="465.22" y2="552.73" stroke="#c4c4c4" stroke-width="0.55"/>
<line x1="456.60" y1="512.34" x2="473.10" y2="550.09" stroke="#c4c4c4" stroke-width="0.55"/>
<line x1="457.46" y1="511.87" x2="480.38" y2="546.11" stroke="#c4c4c4" stroke-width="0.55"/>
<line x1="458.22" y1="511.26" x2="486.84" y2="540.89" stroke="#c4c4c4" stroke-width="0.55"/>
<line x1="458.86" y1="510.52" x2="492.28" y2="534.62" stroke="#c4c4c4" stroke-width="0.55"/>
<path d="M446.19,484.75 A24,24 0 1 0 473.87,521.34" fill="none" stroke="#c8c8c8" stroke-width="0.5"/>
<path d="M441.06,470.65 A39,39 0 1 0 486.03,530.11" fill="none" stroke="#c8c8c8" stroke-width="0.5"/>
<circle cx="454.4" cy="507.3" r="5.5" fill="#aaa"/>
<line x1="454.4" y1="507.3" x2="436.7" y2="453.3" stroke="#bbb" stroke-width="0.6"/>
<path d="M486,478 A40,40 0 0 0 492,552" fill="none" stroke="#ccc" stroke-width="0.5"/>
<polygon points="404.16,290.32 412.66,286.80 451.54,380.67 443.04,384.19" fill="#000" stroke="#000" stroke-width="0.3"/>
<polygon points="456.13,415.79 464.63,412.27 494.40,484.40 527.50,518.20 521.20,524.80 487.80,491.10" fill="#000" stroke="#000" stroke-width="0.3"/>
<polygon points="481.20,548.60 509.75,579.25 514.00,598.00 498.75,614.50 477.90,614.50 477.90,598.10 493.20,597.60 482.10,582.80 490.40,574.40 476.40,559.80" fill="#000" stroke="#000" stroke-width="0.3"/>
<polygon points="488.3,582.8 491.8,579.3 500.1,587.6 496.6,591.1" fill="#fff"/>
<path d="M489.5,582.6 L498.9,588.8 M492,580.6 L495.8,589.8" stroke="#777" stroke-width="0.4"/>
<polygon points="446.46,382.77 448.12,382.08 461.21,413.68 459.55,414.37" fill="#ccc" stroke="#888" stroke-width="0.5"/>
<path d="M461.13,412.20 L492.39,398.28 A34,34 0 0 0 450.07,380.52" fill="none" stroke="#444" stroke-width="0.5"/>
<polygon points="431.9,401.1 442.4,406.7 438.2,416.4" fill="#000"/>
<line x1="525" y1="521" x2="546.5" y2="541.5" stroke="#999" stroke-width="1.6"/>
<line x1="525" y1="521" x2="546.5" y2="541.5" stroke="#eee" stroke-width="0.6"/>
<path d="M525,520.5 A30,30 0 0 1 564,515.5" fill="none" stroke="#555" stroke-width="0.5"/>
<polygon points="384.06,397.80 385.90,397.03 397.31,424.56 395.46,425.33" fill="#bbb" stroke="#999" stroke-width="0.45"/>
<polygon points="396.30,427.36 398.15,426.59 411.54,458.93 409.70,459.70" fill="#bbb" stroke="#999" stroke-width="0.45"/>
<path d="M386.06,397.40 L414.10,406.24 A29.40,29.40 0 0 1 397.31,424.56" fill="none" stroke="#555" stroke-width="0.45"/>
<path d="M411.54,458.93 L427.71,427.89 A35.00,35.00 0 0 0 398.15,426.59" fill="none" stroke="#555" stroke-width="0.45"/>
<path d="M383.5,418.5 L404.9,409.9 M403.7,408.7 l2.4,2.4 m0,-2.4 l-2.4,2.4 M395.5,448.6 L417.1,440.1 M415.9,438.9 l2.4,2.4 m0,-2.4 l-2.4,2.4" stroke="#333" stroke-width="0.5" fill="none"/>
<g transform="translate(381.70,413.28) rotate(67.5)" font-size="3.6" fill="#333" text-anchor="middle"><text y="-0.6">meterkast</text><text y="3.4">770x340</text></g>
<g transform="translate(398.25,445.39) rotate(67.5)" font-size="3.6" fill="#333" text-anchor="middle"><text y="-0.6">kast</text><text y="3.4">600x340</text></g>
<text transform="translate(411.40,407.60) rotate(67.5)" font-size="7.6" fill="#333" text-anchor="middle" y="2.7">30</text>
<text transform="translate(423.20,437.40) rotate(67.5)" font-size="7.6" fill="#333" text-anchor="middle" y="2.7">30</text>
<text transform="translate(420.80,392.80) rotate(67.5)" font-size="7" fill="#bbb" text-anchor="middle" y="2">30</text>
<text transform="translate(440.00,442.50) rotate(67.5)" font-size="7" fill="#bbb" text-anchor="middle" y="2">30</text>
<text transform="translate(494.40,508.90) rotate(-60)" font-size="7" fill="#bbb" text-anchor="middle" y="2">30</text>
<g transform="translate(456.20,390.30) rotate(-22.5)"><rect x="-10" y="-3.6" width="20" height="7" fill="#fff" stroke="#333" stroke-width="0.5"/><text x="0" y="2.2" font-size="5.6" fill="#222" text-anchor="middle">30 vlakt</text></g>
<path d="M444.4,399.7 L472.2,388.6 M443.2,398.5 l2.4,2.4 m0,-2.4 l-2.4,2.4 M471,387.4 l2.4,2.4 m0,-2.4 l-2.4,2.4" stroke="#333" stroke-width="0.45" fill="none"/><circle cx="457" cy="394.6" r="0.9" fill="#333"/>
<g transform="translate(453.80,371.60) rotate(-22.5)"><rect x="-4.8" y="-4.6" width="9.6" height="9.2" fill="#fff" stroke="#333" stroke-width="0.55"/><path d="M-3.5,-3 L0,0.5 L3.5,-3 M0,0.5 L0,3.8 M-2,3.8 L2,3.8" stroke="#333" stroke-width="0.45" fill="none"/><text x="5.8" y="-1.8" font-size="4.2" fill="#222" font-weight="bold">MV</text></g>
<g transform="translate(337,310) rotate(-22.5)"><rect x="-9" y="-5" width="18" height="10" fill="#fff" stroke="#444" stroke-width="0.5" stroke-dasharray="1.5,0.8"/><path d="M-6,-2 L0,0 L6,-3 M-4,0.5 L4,-1" stroke="#555" stroke-width="0.5" fill="none"/><text x="0" y="3.8" font-size="3.4" fill="#333" text-anchor="middle">aansluiting</text></g>
<text transform="translate(522.5,548.5) rotate(-60)" font-size="8.2" fill="#333" text-anchor="middle" y="2.9">80</text>
<polygon points="482.2,551.1 495.6,542.2 497.8,547.8 488.9,555.6" fill="#bdbdbd"/>
<path d="M525.2,543.5 l2,2 m0,-2 l-2,2 M544,524.5 l2,2 m0,-2 l-2,2" stroke="#333" stroke-width="0.5"/>
<path d="M512,556 L546,522" stroke="#333" stroke-width="0.45"/>
<path d="M500,521 L518,540" stroke="#bbb" stroke-width="0.5"/>
<polygon points="512.2,300 543.3,289.3 543.3,395.6 512.2,381.1" fill="none" stroke="#333" stroke-width="0.65" stroke-dasharray="1.6,0.8"/>
<line x1="512.2" y1="306.25" x2="543.3" y2="295.80" stroke="#333" stroke-width="0.6" stroke-dasharray="1.4,0.8"/>
<line x1="512.2" y1="312.50" x2="543.3" y2="302.30" stroke="#333" stroke-width="0.6" stroke-dasharray="1.4,0.8"/>
<line x1="512.2" y1="318.75" x2="543.3" y2="308.80" stroke="#333" stroke-width="0.6" stroke-dasharray="1.4,0.8"/>
<line x1="512.2" y1="325.00" x2="543.3" y2="315.30" stroke="#333" stroke-width="0.6" stroke-dasharray="1.4,0.8"/>
<line x1="512.2" y1="331.25" x2="543.3" y2="321.80" stroke="#333" stroke-width="0.6" stroke-dasharray="1.4,0.8"/>
<line x1="512.2" y1="337.50" x2="543.3" y2="328.30" stroke="#333" stroke-width="0.6" stroke-dasharray="1.4,0.8"/>
<line x1="512.2" y1="343.75" x2="543.3" y2="334.80" stroke="#333" stroke-width="0.6" stroke-dasharray="1.4,0.8"/>
<line x1="512.2" y1="350.00" x2="543.3" y2="341.30" stroke="#333" stroke-width="0.6" stroke-dasharray="1.4,0.8"/>
<line x1="512.2" y1="356.25" x2="543.3" y2="347.80" stroke="#333" stroke-width="0.6" stroke-dasharray="1.4,0.8"/>
<line x1="512.2" y1="362.50" x2="543.3" y2="354.30" stroke="#333" stroke-width="0.6" stroke-dasharray="1.4,0.8"/>
<line x1="512.2" y1="368.75" x2="543.3" y2="360.80" stroke="#333" stroke-width="0.6" stroke-dasharray="1.4,0.8"/>
<line x1="512.2" y1="375.00" x2="543.3" y2="367.30" stroke="#333" stroke-width="0.6" stroke-dasharray="1.4,0.8"/>
<line x1="512.2" y1="381.25" x2="543.3" y2="373.80" stroke="#333" stroke-width="0.6" stroke-dasharray="1.4,0.8"/>
<path d="M512.2,300 L543.3,395.6 M543.3,289.3 L512.2,381.1" stroke="#666" stroke-width="0.4" stroke-dasharray="1.6,1" fill="none"/>
<polygon points="512.2,381.1 543.3,385 543.3,395.6 513.3,428.9 499.6,396.7" fill="none" stroke="#444" stroke-width="0.55"/>
<line x1="512.2" y1="384" x2="540" y2="396.5" stroke="#555" stroke-width="0.45"/>
<line x1="511" y1="388.5" x2="536" y2="402" stroke="#555" stroke-width="0.45"/>
<line x1="508" y1="391" x2="531" y2="408" stroke="#555" stroke-width="0.45"/>
<line x1="505" y1="393.5" x2="526" y2="414" stroke="#555" stroke-width="0.45"/>
<line x1="502.5" y1="395.5" x2="521" y2="420" stroke="#555" stroke-width="0.45"/>
<line x1="500.5" y1="400" x2="517" y2="425" stroke="#555" stroke-width="0.45"/>
<path d="M513.3,428.9 L527,385" stroke="#777" stroke-width="0.4" stroke-dasharray="1.5,1" fill="none"/>
<circle cx="505.5" cy="413.5" r="2" fill="none" stroke="#666" stroke-width="0.45"/>
<polygon points="527.5,385 531.5,396 524.5,396" fill="none" stroke="#666" stroke-width="0.45"/>
<text x="736.2" y="20.9" font-size="5.5" fill="#333" textLength="33" lengthAdjust="spacing">RENVOOI</text>
<line x1="729" y1="22.6" x2="941.3" y2="22.6" stroke="#555" stroke-width="0.6"/>
<text x="736.3" y="38.7" font-size="5.5" fill="#333" textLength="34.5" lengthAdjust="spacing">ALGMEEN</text>
<text x="846.3" y="38.7" font-size="5.5" fill="#333" textLength="52" lengthAdjust="spacing">INSTALLATIES</text>
<text x="752.0" y="45.6" font-size="4.0" fill="#444" textLength="30.5" lengthAdjust="spacingAndGlyphs" text-anchor="start">noordelijke wanding</text>
<text x="752.0" y="58.1" font-size="4.0" fill="#444" textLength="8.8" lengthAdjust="spacingAndGlyphs" text-anchor="start">tegels</text>
<text x="752.0" y="80.1" font-size="4.0" fill="#444" textLength="18.8" lengthAdjust="spacingAndGlyphs" text-anchor="start">buitentegels</text>
<text x="752.0" y="96.7" font-size="4.0" fill="#444" textLength="13.8" lengthAdjust="spacingAndGlyphs" text-anchor="start">kookplaat</text>
<text x="752.0" y="105.2" font-size="4.0" fill="#444" textLength="33.8" lengthAdjust="spacingAndGlyphs" text-anchor="start">opstelplaats kookplaat</text>
<text x="752.0" y="113.4" font-size="4.0" fill="#444" textLength="7.2" lengthAdjust="spacingAndGlyphs" text-anchor="start">toilet</text>
<text x="752.0" y="130.1" font-size="4.0" fill="#444" textLength="27.2" lengthAdjust="spacingAndGlyphs" text-anchor="start">opstelplaats toilet</text>
<text x="752.0" y="151.7" font-size="4.0" fill="#444" textLength="12.7" lengthAdjust="spacingAndGlyphs" text-anchor="start">wastafel</text>
<text x="752.0" y="164.7" font-size="4.0" fill="#444" textLength="32.2" lengthAdjust="spacingAndGlyphs" text-anchor="start">opstelplaats wastafel</text>
<text x="752.0" y="173.1" font-size="4.0" fill="#444" textLength="11.7" lengthAdjust="spacingAndGlyphs" text-anchor="start">douche</text>
<text x="752.0" y="190.4" font-size="4.0" fill="#444" textLength="31.3" lengthAdjust="spacingAndGlyphs" text-anchor="start">opstelplaats douche</text>
<text x="752.0" y="243.9" font-size="4.0" fill="#444" textLength="18.8" lengthAdjust="spacingAndGlyphs" text-anchor="start">opstelplaats</text>
<text x="752.0" y="248.2" font-size="4.0" fill="#444" textLength="38.8" lengthAdjust="spacingAndGlyphs" text-anchor="start">wasmachine / wasdroger</text>
<text x="752.0" y="256.7" font-size="4.0" fill="#444" textLength="41.3" lengthAdjust="spacingAndGlyphs" text-anchor="start">warmte-/koudepomp installatie</text>
<text x="752.0" y="274.7" font-size="4.0" fill="#444" textLength="27.2" lengthAdjust="spacingAndGlyphs" text-anchor="start">meterkastaansluiting</text>
<text x="752.0" y="286.4" font-size="4.0" fill="#444" textLength="47.2" lengthAdjust="spacingAndGlyphs" text-anchor="start">kozijn / deur 30 min. WBDBO,</text>
<text x="752.0" y="290.7" font-size="4.0" fill="#444" textLength="33.0" lengthAdjust="spacingAndGlyphs" text-anchor="start">deur breedte 930mm</text>
<text x="752.0" y="295.0" font-size="4.0" fill="#444" textLength="41.3" lengthAdjust="spacingAndGlyphs" text-anchor="start">(tenzij anders aangegeven)</text>
<text x="752.0" y="310.1" font-size="4.0" fill="#444" textLength="47.2" lengthAdjust="spacingAndGlyphs" text-anchor="start">kozijn / deur 30 min. WBDBO,</text>
<text x="752.0" y="314.4" font-size="4.0" fill="#444" textLength="29.2" lengthAdjust="spacingAndGlyphs" text-anchor="start">zelfsluitend,</text>
<text x="752.0" y="318.7" font-size="4.0" fill="#444" textLength="33.0" lengthAdjust="spacingAndGlyphs" text-anchor="start">deur breedte 930mm</text>
<text x="752.0" y="323.0" font-size="4.0" fill="#444" textLength="41.3" lengthAdjust="spacingAndGlyphs" text-anchor="start">(tenzij anders aangegeven)</text>
<text x="752.0" y="336.7" font-size="4.0" fill="#444" textLength="46.3" lengthAdjust="spacingAndGlyphs" text-anchor="start">kozijn / deur 60 min. WBDBO,</text>
<text x="752.0" y="341.0" font-size="4.0" fill="#444" textLength="29.2" lengthAdjust="spacingAndGlyphs" text-anchor="start">zelfsluitend,</text>
<text x="752.0" y="346.2" font-size="4.0" fill="#444" textLength="33.0" lengthAdjust="spacingAndGlyphs" text-anchor="start">deur breedte 930mm</text>
<text x="752.0" y="350.5" font-size="4.0" fill="#444" textLength="41.3" lengthAdjust="spacingAndGlyphs" text-anchor="start">(tenzij anders aangegeven)</text>
<text x="752.0" y="363.4" font-size="4.0" fill="#444" textLength="39.7" lengthAdjust="spacingAndGlyphs" text-anchor="start">Deur, zelfsluitend middels</text>
<text x="752.0" y="367.7" font-size="4.0" fill="#444" textLength="42.7" lengthAdjust="spacingAndGlyphs" text-anchor="start">vrijloopdeurdranger 30 min.</text>
<text x="752.0" y="372.0" font-size="4.0" fill="#444" textLength="20.5" lengthAdjust="spacingAndGlyphs" text-anchor="start">brandwerend</text>
<text x="752.0" y="376.3" font-size="4.0" fill="#444" textLength="33.0" lengthAdjust="spacingAndGlyphs" text-anchor="start">deur breedte 930mm</text>
<text x="752.0" y="380.6" font-size="4.0" fill="#444" textLength="41.3" lengthAdjust="spacingAndGlyphs" text-anchor="start">(tenzij anders aangegeven)</text>
<text x="752.0" y="386.9" font-size="4.0" fill="#444" textLength="27.7" lengthAdjust="spacingAndGlyphs" text-anchor="start">Deur breedte 930</text>
<text x="752.0" y="391.2" font-size="4.0" fill="#444" textLength="41.3" lengthAdjust="spacingAndGlyphs" text-anchor="start">(tenzij anders aangegeven)</text>
<text x="752.0" y="427.7" font-size="4.0" fill="#444" textLength="27.2" lengthAdjust="spacingAndGlyphs" text-anchor="start">warme meterkast</text>
<text x="770.0" y="207.4" font-size="4.0" fill="#444" textLength="5.8" lengthAdjust="spacingAndGlyphs" text-anchor="start">bad</text>
<text x="770.0" y="226.9" font-size="4.0" fill="#444" textLength="25.8" lengthAdjust="spacingAndGlyphs" text-anchor="start">opstelplaats bad</text>
<text x="770.0" y="412.6" font-size="4.0" fill="#444" textLength="31.7" lengthAdjust="spacingAndGlyphs" text-anchor="start">opstelplaats keuken</text>
<text x="815.3" y="43.9" font-size="4.0" fill="#444" textLength="49.7" lengthAdjust="spacingAndGlyphs" text-anchor="start">Alle verlichting in LED-uitvoering</text>
<text x="815.3" y="50.2" font-size="4.0" fill="#444" textLength="39.7" lengthAdjust="spacingAndGlyphs" text-anchor="start">- Alle maten in millimeters.</text>
<text x="815.3" y="57.2" font-size="4.0" fill="#444" textLength="116.4" lengthAdjust="spacingAndGlyphs" text-anchor="start">- Dozen o.s.p. in wanden met ruggelingse plaatsing, maar 300 mm laten verspringen.</text>
<text x="815.3" y="61.4" font-size="4.0" fill="#444" textLength="67.2" lengthAdjust="spacingAndGlyphs" text-anchor="start">Ook als op tekening anders is aangegeven</text>
<text x="815.3" y="67.2" font-size="4.0" fill="#444" textLength="74.7" lengthAdjust="spacingAndGlyphs" text-anchor="start">- Losse leidingen voorzien van een controledraad</text>
<text x="837.8" y="75.6" font-size="4.0" fill="#444" textLength="62.2" lengthAdjust="spacingAndGlyphs" text-anchor="start">Enkelvoudige schakelaar, hoogte 1050+vl.</text>
<text x="837.8" y="84.7" font-size="4.0" fill="#444" textLength="53.0" lengthAdjust="spacingAndGlyphs" text-anchor="start">Wisselschakelaar, hoogte 1050+vl.</text>
<text x="837.8" y="93.1" font-size="4.0" fill="#444" textLength="50.5" lengthAdjust="spacingAndGlyphs" text-anchor="start">Serieschakelaar, hoogte 1050+vl.</text>
<text x="837.8" y="102.2" font-size="4.0" fill="#444" textLength="94.7" lengthAdjust="spacingAndGlyphs" text-anchor="start">Enkelpolige schakelaar gecombineerd met wandcontactdoos</text>
<text x="837.8" y="106.4" font-size="4.0" fill="#444" textLength="56.2" lengthAdjust="spacingAndGlyphs" text-anchor="start">en 2 inbouwdozen, hoogte 1050+vl.</text>
<text x="837.8" y="113.4" font-size="4.0" fill="#444" textLength="77.2" lengthAdjust="spacingAndGlyphs" text-anchor="start">Enkelvoudige wandcontactdoos, hoogte 1050+vl.</text>
<text x="837.8" y="121.9" font-size="4.0" fill="#444" textLength="96.2" lengthAdjust="spacingAndGlyphs" text-anchor="start">Enkelvoudige waterdichte wandcontactdoos, hoogte 1050+vl.</text>
<text x="837.8" y="130.1" font-size="4.0" fill="#444" textLength="73.9" lengthAdjust="spacingAndGlyphs" text-anchor="start">Dubbelvoudige wandcontactdoos (in duo dose)</text>
<text x="837.8" y="134.3" font-size="4.0" fill="#444" textLength="66.2" lengthAdjust="spacingAndGlyphs" text-anchor="start">hoogte in keuken boven aanrecht 1200+vl.</text>
<text x="837.8" y="139.8" font-size="4.0" fill="#444" textLength="83.0" lengthAdjust="spacingAndGlyphs" text-anchor="start">in verblijfsruimten 300+vl., in overige ruimten 1050+vl.</text>
<text x="837.8" y="148.4" font-size="4.0" fill="#444" textLength="102.2" lengthAdjust="spacingAndGlyphs" text-anchor="start">Enkelvoudige wandcontactdoos t.b.v. Wasemkap, hoogte 2000+vl.</text>
<text x="837.8" y="156.9" font-size="4.0" fill="#444" textLength="98.0" lengthAdjust="spacingAndGlyphs" text-anchor="start">Enkelvoudige wandcontactdoos t.b.v. Koelkast, hoogte 1250+vl.</text>
<text x="837.8" y="165.2" font-size="4.0" fill="#444" textLength="90.5" lengthAdjust="spacingAndGlyphs" text-anchor="start">Enkelvoudige wandcontactdoos t.b.v. Oven, hoogte 600+vl.</text>
<text x="837.8" y="173.6" font-size="4.0" fill="#444" textLength="99.7" lengthAdjust="spacingAndGlyphs" text-anchor="start">Perilex wandcontactdoos t.b.v. Elektrisch koken, hoogte 600+vl.</text>
<text x="837.8" y="182.6" font-size="4.0" fill="#444" textLength="104.7" lengthAdjust="spacingAndGlyphs" text-anchor="start">Enkelvoudige wandcontactdoos t.b.v. Wasmachine, hoogte 1050+vl.</text>
<text x="837.8" y="191.1" font-size="4.0" fill="#444" textLength="101.2" lengthAdjust="spacingAndGlyphs" text-anchor="start">Enkelvoudige wandcontactdoos t.b.v. Wasdroger, hoogte 1050+vl.</text>
<text x="837.8" y="199.7" font-size="4.0" fill="#444" textLength="93.0" lengthAdjust="spacingAndGlyphs" text-anchor="start">Enkelvoudige wandcontactdoos t.b.v. Mechanische ventilatie,</text>
<text x="837.8" y="203.9" font-size="4.0" fill="#444" textLength="20.5" lengthAdjust="spacingAndGlyphs" text-anchor="start">hoogte n.t.b.</text>
<text x="837.8" y="210.2" font-size="4.0" fill="#444" textLength="91.2" lengthAdjust="spacingAndGlyphs" text-anchor="start">Enkelvoudige wandcontactdoos t.b.v. Boiler, hoogte 600+vl.</text>
<text x="837.8" y="218.9" font-size="4.0" fill="#444" textLength="92.2" lengthAdjust="spacingAndGlyphs" text-anchor="start">Enkelvoudige afsluitbare wandcontactdoos, hoogte 300+vl.</text>
<text x="837.8" y="227.6" font-size="4.0" fill="#444" textLength="90.5" lengthAdjust="spacingAndGlyphs" text-anchor="start">BEDRADE aansluiting 19mm t.b.v. Telefoon, hoogte 300+vl.</text>
<text x="837.8" y="235.9" font-size="4.0" fill="#444" textLength="103.0" lengthAdjust="spacingAndGlyphs" text-anchor="start">BEDRADE aansluiting 19mm t.b.v. Televisie / Radio, hoogte 300+vl.</text>
<text x="837.8" y="244.4" font-size="4.0" fill="#444" textLength="96.2" lengthAdjust="spacingAndGlyphs" text-anchor="start">ONBEDRADE aansluiting 19mm t.b.v. Telefoon, hoogte 300+vl.</text>
<text x="837.8" y="252.7" font-size="4.0" fill="#444" textLength="108.0" lengthAdjust="spacingAndGlyphs" text-anchor="start">ONBEDRADE aansluiting 19mm t.b.v. Televisie / Radio, hoogte 300+vl.</text>
<text x="837.8" y="261.7" font-size="4.0" fill="#444" textLength="93.9" lengthAdjust="spacingAndGlyphs" text-anchor="start">ONBEDRADE aansluiting 19mm voorzien van controledraad,</text>
<text x="837.8" y="265.9" font-size="4.0" fill="#444" textLength="20.5" lengthAdjust="spacingAndGlyphs" text-anchor="start">hoogte n.t.b.</text>
<text x="837.8" y="274.7" font-size="4.0" fill="#444" textLength="43.0" lengthAdjust="spacingAndGlyphs" text-anchor="start">BEDRADE aansluiting 230V</text>
<text x="837.8" y="283.1" font-size="4.0" fill="#444" textLength="35.5" lengthAdjust="spacingAndGlyphs" text-anchor="start">Schel, hoogte 2300+vl.</text>
<text x="837.8" y="291.4" font-size="4.0" fill="#444" textLength="43.9" lengthAdjust="spacingAndGlyphs" text-anchor="start">Beldrukker, hoogte 1300+vl.</text>
<text x="837.8" y="300.1" font-size="4.0" fill="#444" textLength="32.2" lengthAdjust="spacingAndGlyphs" text-anchor="start">Optische rookmelder</text>
<text x="837.8" y="308.9" font-size="4.0" fill="#444" textLength="20.5" lengthAdjust="spacingAndGlyphs" text-anchor="start">Groepenkast</text>
<text x="837.8" y="317.6" font-size="4.0" fill="#444" textLength="45.5" lengthAdjust="spacingAndGlyphs" text-anchor="start">Aansluitpunt plafondlichtpunt</text>
<text x="837.8" y="326.1" font-size="4.0" fill="#444" textLength="68.9" lengthAdjust="spacingAndGlyphs" text-anchor="start">Aansluitpunt wandlichtpunt, hoogte 1800+vl.</text>
<text x="837.8" y="334.2" font-size="4.0" fill="#444" textLength="108.9" lengthAdjust="spacingAndGlyphs" text-anchor="start">BEDRADE aansluiting 19mm t.b.v. Kamerthermostaat, hoogte 1500+vl.</text>
<text x="837.8" y="342.7" font-size="4.0" fill="#444" textLength="100.5" lengthAdjust="spacingAndGlyphs" text-anchor="start">BEDRADE aansluiting 19mm t.b.v. Ruimteregeling, hoogte 300+vl.</text>
<text x="837.8" y="351.9" font-size="4.0" fill="#444" textLength="48.9" lengthAdjust="spacingAndGlyphs" text-anchor="start">Aansluitpunt centraal aardpunt</text>
<text x="837.8" y="360.6" font-size="4.0" fill="#444" textLength="22.2" lengthAdjust="spacingAndGlyphs" text-anchor="start">Vloer aardmat</text>
<text x="837.8" y="368.9" font-size="4.0" fill="#444" textLength="28.0" lengthAdjust="spacingAndGlyphs" text-anchor="start">Bewegingsmelder</text>
<text x="837.8" y="377.2" font-size="4.0" fill="#444" textLength="51.4" lengthAdjust="spacingAndGlyphs" text-anchor="start">Intercomtoestel, hoogte 1500+vl.</text>
<text x="837.8" y="385.9" font-size="4.0" fill="#444" textLength="58.9" lengthAdjust="spacingAndGlyphs" text-anchor="start">Beltableau (videofoon of intercom)</text>
<text x="837.8" y="394.4" font-size="4.0" fill="#444" textLength="56.2" lengthAdjust="spacingAndGlyphs" text-anchor="start">Deuropener (videofoon of intercom)</text>
<text x="837.8" y="403.1" font-size="4.0" fill="#444" textLength="38.9" lengthAdjust="spacingAndGlyphs" text-anchor="start">Verdeler vloerverwarming</text>
<text x="837.8" y="411.1" font-size="4.0" fill="#444" textLength="45.5" lengthAdjust="spacingAndGlyphs" text-anchor="start">mechanische ventilatie, afvoer</text>
<text x="837.8" y="420.1" font-size="4.0" fill="#444" textLength="47.2" lengthAdjust="spacingAndGlyphs" text-anchor="start">mechanische ventilatie, toevoer</text>
<text x="837.8" y="427.7" font-size="4.0" fill="#444" textLength="26.4" lengthAdjust="spacingAndGlyphs" text-anchor="start">kruis-meterkast</text>
<text x="725.3" y="441.4" font-size="4.0" fill="#444" textLength="18.0" lengthAdjust="spacingAndGlyphs" text-anchor="start">Disclaimer:</text>
<text x="725.3" y="445.9" font-size="4.0" fill="#444" textLength="198.9" lengthAdjust="spacingAndGlyphs" text-anchor="start">- alle maten zijn circa maten en kunnen in werkelijkheid afwijken. De maten zijn gemeten c.q. uitgegeven worden en dienen</text>
<text x="725.3" y="450.6" font-size="4.0" fill="#444" textLength="157.2" lengthAdjust="spacingAndGlyphs" text-anchor="start">- posities van installaties en andere voorzieningen zijn indicatief en afhankelijk van o.a. technische eisen.</text>
<text x="725.3" y="454.7" font-size="4.0" fill="#444" textLength="192.2" lengthAdjust="spacingAndGlyphs" text-anchor="start"> installaties worden in de verdere uitwerking geoptimaliseerd om zo de benodigde ruimte (o.a. schachten) te minimaliseren.</text>
<text x="725.3" y="458.9" font-size="4.0" fill="#444" textLength="123.7" lengthAdjust="spacingAndGlyphs" text-anchor="start">- de aansluitmogelijkheid in de bouwkundig kunnen nog nader uitgewerkt te worden.</text>
<polygon points="738,44.2 747,44.2 742.5,48.3" fill="#000"/>
<rect x="729.2" y="52.2" width="17.799999999999955" height="17.799999999999997" stroke="#222" stroke-width="0.5" fill="none"/>
<line x1="733.65" y1="52.2" x2="733.65" y2="70" stroke="#444" stroke-width="0.4"/>
<line x1="729.2" y1="56.65" x2="747" y2="56.65" stroke="#444" stroke-width="0.4"/>
<line x1="738.10" y1="52.2" x2="738.10" y2="70" stroke="#444" stroke-width="0.4"/>
<line x1="729.2" y1="61.10" x2="747" y2="61.10" stroke="#444" stroke-width="0.4"/>
<line x1="742.55" y1="52.2" x2="742.55" y2="70" stroke="#444" stroke-width="0.4"/>
<line x1="729.2" y1="65.55" x2="747" y2="65.55" stroke="#444" stroke-width="0.4"/>
<rect x="729.2" y="73.7" width="17.799999999999955" height="18.0" stroke="#222" stroke-width="0.5" fill="none"/>
<line x1="735.13" y1="73.7" x2="735.13" y2="91.7" stroke="#444" stroke-width="0.4"/>
<line x1="729.2" y1="79.70" x2="747" y2="79.70" stroke="#444" stroke-width="0.4"/>
<line x1="741.07" y1="73.7" x2="741.07" y2="91.7" stroke="#444" stroke-width="0.4"/>
<line x1="729.2" y1="85.70" x2="747" y2="85.70" stroke="#444" stroke-width="0.4"/>
<rect x="740.5" y="94.3" width="6.5" height="4" stroke="#000" stroke-width="0.7" fill="none"/><circle cx="745" cy="96.3" r="1.2" fill="#000"/>
<path d="M743,103 L740.5,103 L740.5,107.5 L743,107.5" stroke="#000" stroke-width="0.7" fill="none"/><circle cx="745" cy="105.3" r="1.7" stroke="#000" stroke-width="0.6" fill="none"/><line x1="743.3" y1="105.3" x2="746.7" y2="105.3" stroke="#000" stroke-width="0.5"/>
<rect x="730.8" y="112" width="16.2" height="3.2" fill="#fff" stroke="#000" stroke-width="0.8"/><rect x="735.5" y="115.2" width="6" height="2" stroke="#000" stroke-width="0.4" fill="none"/><ellipse cx="738.3" cy="121.3" rx="3.4" ry="3.6" stroke="#000" stroke-width="0.7" fill="none"/><circle cx="738.3" cy="121.3" r="1.6" stroke="#000" stroke-width="0.4" fill="none"/>
<rect x="730.2" y="128.7" width="16.8" height="3.6" fill="#fff" stroke="#000" stroke-width="0.8" stroke-dasharray="2,0.7"/><rect x="735.5" y="132.3" width="6" height="2" stroke="#000" stroke-width="0.4" fill="none" stroke-dasharray="1,0.5"/><ellipse cx="738.3" cy="138" rx="3.4" ry="3.6" stroke="#000" stroke-width="0.7" fill="none" stroke-dasharray="1.5,0.6"/><circle cx="738.3" cy="138" r="1.6" stroke="#000" stroke-width="0.4" fill="none"/>
<rect x="730.8" y="145.8" width="16.2" height="8.4" stroke="#222" stroke-width="0.6" fill="none"/><rect x="733.2" y="148" width="11.4" height="4.2" stroke="#222" stroke-width="0.5" fill="none"/><circle cx="738.9" cy="150.2" r="0.4" fill="#000"/>
<rect x="730.8" y="158.3" width="16.2" height="8.4" stroke="#222" stroke-width="0.6" fill="none" stroke-dasharray="1.5,0.8"/><path d="M733,162 L735,165 L737,162 L739,165 L741,162 L743,165 L745,162" stroke="#333" stroke-width="0.4" fill="none"/>
<path d="M734,173 L744,173 M735,173 L736.5,170 L738,173 L739.5,170 L741,173 L742.5,170 L743.5,173" stroke="#111" stroke-width="0.8" fill="none"/>
<path d="M734,181.5 L737,175 L741,175 L744,181.5 M739,175 L739,181" stroke="#333" stroke-width="0.5" fill="none"/>
<path d="M734,190.5 L744,190.5 M735,190.5 L736.5,187.5 L738,190.5 L739.5,187.5 L741,190.5 L742.5,187.5 L743.5,190.5" stroke="#111" stroke-width="0.8" fill="none"/>
<path d="M734,199.0 L737,192.5 L741,192.5 L744,199.0 M739,192.5 L739,198.5" stroke="#333" stroke-width="0.5" fill="none" stroke-dasharray="1.2,0.6"/>
<ellipse cx="748.3" cy="212" rx="15.3" ry="7.5" stroke="#222" stroke-width="0.6" fill="none"/><ellipse cx="748.3" cy="212" rx="11.5" ry="5.2" stroke="#222" stroke-width="0.5" fill="none"/><circle cx="748.3" cy="212" r="0.5" fill="#000"/>
<ellipse cx="748.3" cy="229.5" rx="15.3" ry="7.5" stroke="#222" stroke-width="0.6" fill="none" stroke-dasharray="2,0.8"/><ellipse cx="748.3" cy="229.5" rx="11.5" ry="5.2" stroke="#222" stroke-width="0.5" fill="none" stroke-dasharray="2,0.8"/><circle cx="748.3" cy="229.5" r="0.5" fill="#000"/>
<rect x="735" y="240" width="10.8" height="11.3" stroke="#222" stroke-width="0.5" fill="none" stroke-dasharray="1.5,0.6"/><line x1="735" y1="245.6" x2="745.8" y2="245.6" stroke="#333" stroke-width="0.4" stroke-dasharray="1,0.6"/>
<rect x="733.3" y="255" width="13.7" height="10.8" stroke="#222" stroke-width="0.5" fill="none"/><text x="740.2" y="261" font-size="2.6" fill="#777" text-anchor="middle">xxx</text>
<path d="M744.2,270.5 L744.2,276.5 M741,273.3 L747.5,273.3" stroke="#000" stroke-width="1.1"/><text x="740" y="270" font-size="2.4" fill="#555">xxx</text>
<line x1="729.2" y1="285" x2="745.8" y2="285" stroke="#000" stroke-width="1.5"/>
<rect x="729.0" y="283.7" width="2.2" height="2.6" fill="#000"/><rect x="743.8" y="283.7" width="2.2" height="2.6" fill="#000"/>
<path d="M729.5,285 A16,16 0 0 0 745.8,301 L745.8,285" stroke="#222" stroke-width="0.5" fill="none"/>
<line x1="737.5" y1="277" x2="737.5" y2="295" stroke="#000" stroke-width="0.6"/>
<text x="737.5" y="297" font-size="2.6" fill="#555" text-anchor="middle">30</text>
<line x1="729.2" y1="308.3" x2="745.8" y2="308.3" stroke="#000" stroke-width="1.5"/>
<rect x="729.0" y="307.0" width="2.2" height="2.6" fill="#000"/><rect x="743.8" y="307.0" width="2.2" height="2.6" fill="#000"/>
<path d="M729.5,308.3 A16,16 0 0 0 745.8,324.3 L745.8,308.3" stroke="#222" stroke-width="0.5" fill="none"/>
<line x1="737.5" y1="300.3" x2="737.5" y2="318.3" stroke="#000" stroke-width="0.6"/>
<text x="737.5" y="320.3" font-size="2.6" fill="#555" text-anchor="middle">30</text>
<line x1="729.2" y1="335.3" x2="745.8" y2="335.3" stroke="#000" stroke-width="1.5"/>
<rect x="729.0" y="334.0" width="2.2" height="2.6" fill="#000"/><rect x="743.8" y="334.0" width="2.2" height="2.6" fill="#000"/>
<path d="M729.5,335.3 A16,16 0 0 0 745.8,351.3 L745.8,335.3" stroke="#222" stroke-width="0.5" fill="none"/>
<line x1="737.5" y1="327.3" x2="737.5" y2="345.3" stroke="#000" stroke-width="0.6"/>
<text x="737.5" y="347.3" font-size="2.6" fill="#555" text-anchor="middle">30</text>
<rect x="739" y="356" width="3.5" height="11" stroke="#444" stroke-width="0.5" fill="none"/>
<line x1="729.2" y1="361.3" x2="745.8" y2="361.3" stroke="#000" stroke-width="1.5"/>
<rect x="729.0" y="360.0" width="2.2" height="2.6" fill="#000"/><rect x="743.8" y="360.0" width="2.2" height="2.6" fill="#000"/>
<path d="M729.5,361.3 A16,16 0 0 0 745.8,377.3 L745.8,361.3" stroke="#222" stroke-width="0.5" fill="none"/>
<line x1="737.5" y1="353.3" x2="737.5" y2="371.3" stroke="#000" stroke-width="0.6"/>
<text x="737.5" y="373.3" font-size="2.6" fill="#555" text-anchor="middle">30</text>
<line x1="729.2" y1="385" x2="745.8" y2="385" stroke="#000" stroke-width="1.5"/>
<rect x="729.0" y="383.7" width="2.2" height="2.6" fill="#000"/><rect x="743.8" y="383.7" width="2.2" height="2.6" fill="#000"/>
<path d="M729.5,385 A16,16 0 0 0 745.8,401 L745.8,385" stroke="#222" stroke-width="0.5" fill="none"/>
<rect x="730.3" y="405" width="16" height="11.7" stroke="#333" stroke-width="0.5" fill="none" stroke-dasharray="1.5,0.7"/><rect x="749" y="405" width="17.7" height="11.7" stroke="#333" stroke-width="0.5" fill="none" stroke-dasharray="1.5,0.7"/>
<circle cx="735" cy="408.3" r="1.8" stroke="#444" stroke-width="0.4" fill="none"/>
<circle cx="740.5" cy="408.3" r="1.8" stroke="#444" stroke-width="0.4" fill="none"/>
<circle cx="735" cy="413.3" r="1.8" stroke="#444" stroke-width="0.4" fill="none"/>
<circle cx="740.5" cy="413.3" r="1.8" stroke="#444" stroke-width="0.4" fill="none"/>
<rect x="752" y="407.5" width="12" height="7" stroke="#444" stroke-width="0.4" fill="none"/>
<rect x="730.3" y="422.5" width="16.4" height="7.2" stroke="#111" stroke-width="0.7" fill="none"/><path d="M732.5,425 L736,427.5 L739,426 M740,428 L742,425.5 L744.5,428" stroke="#111" stroke-width="0.7" fill="none"/>
<circle cx="823.7" cy="75.3" r="1.1" fill="#222"/><line x1="824.4" y1="74.5" x2="826.6" y2="71.8" stroke="#222" stroke-width="0.6"/>
<circle cx="823.7" cy="83.5" r="1.0" fill="#222"/><path d="M821.2,86.8 L826.6,80.5 L827.4,81.2" stroke="#222" stroke-width="0.6" fill="none"/>
<circle cx="823.7" cy="91.8" r="1.0" fill="#222"/><path d="M821.2,89.3 L823.7,92.4 L826.6,89.3 M820.5,90 L821.2,89.3 M826.6,89.3 L827.2,90" stroke="#222" stroke-width="0.6" fill="none"/>
<circle cx="823.7" cy="102.3" r="1.2" stroke="#222" stroke-width="0.6" fill="none"/><path d="M823.7,101 L823.7,98.5 L826.6,99.6 M822.6,98.5 L824.6,98.5" stroke="#222" stroke-width="0.6" fill="none"/>
<path d="M825.1,110.4 A1.7,1.7 0 0 0 825.1,113.6" stroke="#111" stroke-width="0.6" fill="none"/>
<line x1="820.5" y1="112.0" x2="823.4" y2="112.0" stroke="#111" stroke-width="0.6"/>
<path d="M825.1,118.9 A1.7,1.7 0 0 0 825.1,122.1" stroke="#111" stroke-width="0.6" fill="none"/>
<line x1="820.5" y1="120.5" x2="823.4" y2="120.5" stroke="#111" stroke-width="0.6"/>
<path d="M825.1,118.9 A1.7,1.7 0 0 0 825.1,122.1 Z" fill="#111"/>
<path d="M825.1,127.1 A1.7,1.7 0 0 0 825.1,130.29999999999998" stroke="#111" stroke-width="0.6" fill="none"/>
<line x1="820.5" y1="128.7" x2="823.4" y2="128.7" stroke="#111" stroke-width="0.6"/>
<path d="M826.1,126.69999999999999 A2.2,2.2 0 0 0 826.1,130.7" stroke="#111" stroke-width="0.6" fill="none"/>
<path d="M825.1,145.4 A1.7,1.7 0 0 0 825.1,148.6" stroke="#111" stroke-width="0.6" fill="none"/>
<line x1="820.5" y1="147.0" x2="823.4" y2="147.0" stroke="#111" stroke-width="0.6"/>
<text x="826.8" y="148.0" font-size="2.7" fill="#333">wk</text>
<path d="M825.1,153.9 A1.7,1.7 0 0 0 825.1,157.1" stroke="#111" stroke-width="0.6" fill="none"/>
<line x1="820.5" y1="155.5" x2="823.4" y2="155.5" stroke="#111" stroke-width="0.6"/>
<path d="M825.1,153.9 A1.7,1.7 0 0 0 825.1,157.1 Z" fill="#111"/>
<text x="826.8" y="156.5" font-size="2.7" fill="#333">ko</text>
<path d="M825.1,162.20000000000002 A1.7,1.7 0 0 0 825.1,165.4" stroke="#111" stroke-width="0.6" fill="none"/>
<line x1="820.5" y1="163.8" x2="823.4" y2="163.8" stroke="#111" stroke-width="0.6"/>
<text x="826.8" y="164.8" font-size="2.7" fill="#333">ov</text>
<path d="M825.1,170.6 A1.7,1.7 0 0 0 825.1,173.79999999999998" stroke="#111" stroke-width="0.6" fill="none"/>
<line x1="820.5" y1="172.2" x2="823.4" y2="172.2" stroke="#111" stroke-width="0.6"/>
<path d="M825.1,170.6 A1.7,1.7 0 0 0 825.1,173.79999999999998 Z" fill="#111"/>
<text x="826.8" y="173.2" font-size="2.7" fill="#333">ek</text>
<path d="M825.1,179.6 A1.7,1.7 0 0 0 825.1,182.79999999999998" stroke="#111" stroke-width="0.6" fill="none"/>
<line x1="820.5" y1="181.2" x2="823.4" y2="181.2" stroke="#111" stroke-width="0.6"/>
<text x="826.8" y="182.2" font-size="2.7" fill="#333">wm</text>
<path d="M825.1,188.1 A1.7,1.7 0 0 0 825.1,191.29999999999998" stroke="#111" stroke-width="0.6" fill="none"/>
<line x1="820.5" y1="189.7" x2="823.4" y2="189.7" stroke="#111" stroke-width="0.6"/>
<path d="M825.1,188.1 A1.7,1.7 0 0 0 825.1,191.29999999999998 Z" fill="#111"/>
<text x="826.8" y="190.7" font-size="2.7" fill="#333">wd</text>
<path d="M825.1,196.70000000000002 A1.7,1.7 0 0 0 825.1,199.9" stroke="#111" stroke-width="0.6" fill="none"/>
<line x1="820.5" y1="198.3" x2="823.4" y2="198.3" stroke="#111" stroke-width="0.6"/>
<text x="826.8" y="199.3" font-size="2.7" fill="#333">mv</text>
<path d="M825.1,207.20000000000002 A1.7,1.7 0 0 0 825.1,210.4" stroke="#111" stroke-width="0.6" fill="none"/>
<line x1="820.5" y1="208.8" x2="823.4" y2="208.8" stroke="#111" stroke-width="0.6"/>
<text x="826.8" y="209.8" font-size="2.7" fill="#333">bo</text>
<rect x="821" y="216" width="3" height="3" fill="#111"/><circle cx="823.5" cy="217.5" r="1.5" fill="#111"/>
<line x1="819.5" y1="226.2" x2="826.5" y2="226.2" stroke="#111" stroke-width="0.6"/>
<circle cx="823.7" cy="226.2" r="0.9" fill="#111"/>
<text x="827.5" y="226.79999999999998" font-size="2.6" fill="#333">tel</text>
<line x1="819.5" y1="234.5" x2="826.5" y2="234.5" stroke="#111" stroke-width="0.6"/>
<circle cx="823.7" cy="234.5" r="0.9" fill="#111"/>
<text x="827.5" y="235.1" font-size="2.6" fill="#333">cai</text>
<line x1="819.5" y1="243.0" x2="826.5" y2="243.0" stroke="#111" stroke-width="0.6"/>
<circle cx="823.7" cy="243.0" r="0.9" fill="#111"/>
<text x="827.5" y="243.6" font-size="2.6" fill="#333">tel</text>
<line x1="819.5" y1="251.3" x2="826.5" y2="251.3" stroke="#111" stroke-width="0.6"/>
<circle cx="823.7" cy="251.3" r="0.9" fill="#111"/>
<text x="827.5" y="251.9" font-size="2.6" fill="#333">cai</text>
<line x1="819.5" y1="260.3" x2="826.5" y2="260.3" stroke="#111" stroke-width="0.6"/>
<circle cx="823.7" cy="260.3" r="0.9" fill="#111"/>
<text x="827.5" y="260.90000000000003" font-size="2.6" fill="#333">cd</text>
<path d="M820.5,274.3 L822,272 L826,272 L827.5,274.3 Z" fill="#111"/><line x1="819.5" y1="274.3" x2="828.5" y2="274.3" stroke="#111" stroke-width="0.6"/>
<ellipse cx="824" cy="281.7" rx="2.4" ry="1.5" stroke="#111" stroke-width="0.6" fill="none"/><line x1="821.5" y1="280.5" x2="826.5" y2="280.5" stroke="#111" stroke-width="0.4"/>
<path d="M824,286.5 L824,291 M822.5,287 L825.5,287" stroke="#111" stroke-width="0.7"/><circle cx="824" cy="291.5" r="1.2" fill="#111"/>
<rect x="821.5" y="296.7" width="5" height="4.2" stroke="#111" stroke-width="0.6" fill="none"/><path d="M822.5,296.7 L823.3,295.6 L825,295.6" stroke="#111" stroke-width="0.5" fill="none"/><path d="M827.5,298.5 L829.5,300.5 M829.5,298.5 L827.5,300.5" stroke="#111" stroke-width="0.5"/>
<path d="M819,305.8 L823.7,307.9 L819,310 Z M828.3,305.8 L823.7,307.9 L828.3,310 Z" fill="#111"/><rect x="819" y="306.1" width="2.8" height="3.6" fill="#111"/><rect x="825.6" y="306.1" width="2.8" height="3.6" fill="#111"/>
<circle cx="823.7" cy="316.4" r="2.3" stroke="#111" stroke-width="0.6" fill="none"/><path d="M822.1,314.8 L825.3,318 M825.3,314.8 L822.1,318" stroke="#111" stroke-width="0.5"/>
<circle cx="823.7" cy="324.8" r="2.3" stroke="#111" stroke-width="0.6" fill="none"/><path d="M822.1,323.2 L825.3,326.4 M825.3,323.2 L822.1,326.4 M819.5,322.3 L819.5,327.3 M819.5,324.8 L821.4,324.8" stroke="#111" stroke-width="0.5"/>
<line x1="819.5" y1="332.8" x2="826.5" y2="332.8" stroke="#111" stroke-width="0.6"/>
<circle cx="823.7" cy="332.8" r="0.9" fill="#111"/>
<line x1="819.5" y1="341.3" x2="825.5" y2="341.3" stroke="#111" stroke-width="0.6"/><path d="M824.5,340.3 L826.3,341.3 L824.5,342.3 Z" fill="#111"/><text x="827.5" y="340" font-size="2.4" fill="#333">R</text>
<line x1="819.5" y1="350.5" x2="826.5" y2="350.5" stroke="#111" stroke-width="0.6"/>
<circle cx="823.7" cy="350.5" r="0.9" fill="#111"/>
<circle cx="823.7" cy="359.3" r="2.2" fill="#111"/>
<circle cx="823.7" cy="367.7" r="2.0" fill="#333"/><circle cx="823.7" cy="367.7" r="0.8" fill="#777"/>
<rect x="821.3" y="373.5" width="4.5" height="5" stroke="#111" stroke-width="0.6" fill="none"/><path d="M824.5,374.8 A1.4,1.4 0 1 0 824.5,377.2" stroke="#111" stroke-width="0.5" fill="none"/><line x1="825.8" y1="375.5" x2="828" y2="375.5" stroke="#111" stroke-width="0.5"/>
<rect x="819.2" y="382" width="9.2" height="5.5" fill="#fff" stroke="#111" stroke-width="0.6"/><rect x="819.2" y="384.7" width="4.6" height="2.8" fill="#111"/><rect x="823.8" y="382" width="4.6" height="2.7" fill="#111"/>
<path d="M819.5,394.5 L821,392 L827,392 L827,395 L821,395 Z" stroke="#111" stroke-width="0.5" fill="none"/>
<rect x="819.3" y="399.7" width="14.2" height="4" stroke="#222" stroke-width="0.5" fill="none" stroke-dasharray="1.4,0.6"/><line x1="823" y1="401.7" x2="831" y2="401.7" stroke="#444" stroke-width="0.4"/>
<circle cx="821.6" cy="409.7" r="1.4" stroke="#111" stroke-width="0.7" fill="none"/><path d="M823,409.7 L826.8,407.5 L826.8,411.9 Z" fill="#111"/><line x1="823" y1="409.7" x2="827.5" y2="409.7" stroke="#111" stroke-width="0.6"/>
<path d="M819.5,416 L822.5,418.7 L819.5,421.4" stroke="#111" stroke-width="0.6" fill="none"/><line x1="822.5" y1="418.7" x2="824.5" y2="418.7" stroke="#111" stroke-width="0.6"/><circle cx="826" cy="418.7" r="1.4" stroke="#111" stroke-width="0.6" fill="none"/>
<rect x="818.2" y="423.3" width="13.4" height="6.6" stroke="#111" stroke-width="0.7" fill="none"/><path d="M820,425 L823,427.5 L826,426 M826.5,428.3 L828.5,425.5 L830.5,428.3" stroke="#111" stroke-width="0.7" fill="none"/>
<circle cx="799.9" cy="491.25" r="12.3" fill="none" stroke="#222" stroke-width="0.8"/>
<line x1="799.4" y1="491.1" x2="805.8" y2="501.1" stroke="#222" stroke-width="0.8"/>
<path d="M833.3,503.8 C860,492 900,474 940,466 L951.5,466 L952.5,662.5" fill="none" stroke="#555" stroke-width="0.5" stroke-dasharray="2.2,1"/>
<path d="M833.3,504.4 L880.6,487.8 L933.3,469.7 L941.7,469.4 L948.6,471.8" fill="none" stroke="#444" stroke-width="0.5"/>
<path d="M835.4,504.4 L848.5,540 L856,562 L862,585 L858.3,606.6 L853.6,611.3 C856,622 862,630 877.2,635 L898.4,635" fill="none" stroke="#444" stroke-width="0.5"/>
<path d="M833.3,504.4 L835.4,504.4" fill="none" stroke="#444" stroke-width="0.5"/>
<polygon points="880.6,487.8 933.3,469.7 941.7,469.4 948.6,471.8 949.3,482.2 943,483.6 943,491.25 949.3,493.3 950,528 943.75,529.4 943.75,537.8 950,539.2 950.7,548.9 943.75,551.7 943.75,562.5 896.1,562.8 881.8,516.5" fill="#d4d4d4" stroke="#444" stroke-width="0.55"/>
<polygon points="834.7,567.7 848.9,562 858.3,594 861.9,604 853,607.5 845,592" fill="none" stroke="#444" stroke-width="0.5"/>
<path d="M872.5,585.8 L885.8,573.3 L920.8,573.3 L950.8,582.5 L950.8,627.5 L920,628.3 M872.5,585.8 L872.5,601.7 L880,610.8 L896.5,627" fill="none" stroke="#444" stroke-width="0.5"/>
<path d="M893.3,635 L943.3,635 M941.7,628.3 L941.7,637.5 L944.5,638.8 L948.3,636.7 L948.3,628.3 M860,626.7 C864,633 870,638 878.3,641.7 L896,646.7 M898.3,635.8 L895.8,646.7 M917.5,636 L920,653.3 L933.3,656.7 L943.3,648.3 L944.2,636" fill="none" stroke="#444" stroke-width="0.5"/>
<path d="M880,643.3 L877.5,653.3 L915,664.2 L917.5,636 M952.5,662.5 L920,653.3" fill="none" stroke="#555" stroke-width="0.5" stroke-dasharray="2,1"/>
<polygon points="934.80,612.10 919.10,627.80 896.90,627.80 881.20,612.10 881.20,589.90 896.90,574.20 919.10,574.20 934.80,589.90" fill="#a6a6a6" stroke="#c8262c" stroke-width="1.3"/>
<text x="907.9" y="589.6" font-size="7.4" font-weight="bold" fill="#222" text-anchor="middle">T11</text>
<polygon points="902.5,599.2 910,596.3 915.5,610.5 920,616.5 924.2,621.8 920.5,625.3 911.7,622.8 910.8,618 907.8,614.5 907.5,609.5" fill="none" stroke="#c8262c" stroke-width="0.9"/>
<text x="722.0" y="646.3" font-size="14.3" fill="#222" textLength="108.3" lengthAdjust="spacingAndGlyphs">Appartement T11</text>
<text x="722.4" y="669.7" font-size="14.3" fill="#222" textLength="115.6" lengthAdjust="spacingAndGlyphs">Variant A; CASCO</text>
<text x="721.9" y="694.4" font-size="6.6" fill="#333" textLength="52.7" lengthAdjust="spacingAndGlyphs">1414-VT-T11-111-A</text>
<text x="816.8" y="694.6" font-size="7.4" fill="#333" textLength="76.3" lengthAdjust="spacingAndGlyphs">11e Verdieping (Laag 11)</text>
<line x1="721.9" y1="696.1" x2="893.1" y2="696.1" stroke="#888" stroke-width="0.5"/>
<text x="721.9" y="703.8" font-size="4.1" fill="#555" textLength="12.1" lengthAdjust="spacingAndGlyphs">Schaal</text>
<text x="761.4" y="703.8" font-size="4.1" fill="#555" textLength="7.8" lengthAdjust="spacingAndGlyphs">1:50</text>
<text x="797.2" y="703.8" font-size="4.1" fill="#555" textLength="26.8" lengthAdjust="spacingAndGlyphs">Opdrachtgever</text>
<text x="835.9" y="703.8" font-size="4.1" fill="#555" textLength="26.7" lengthAdjust="spacingAndGlyphs">Waterfront CV</text>
<text x="721.9" y="710.3" font-size="4.1" fill="#555" textLength="11.3" lengthAdjust="spacingAndGlyphs">Datum</text>
<text x="761.4" y="710.3" font-size="4.1" fill="#555" font-weight="bold" textLength="20.5" lengthAdjust="spacingAndGlyphs">2023.02.24</text>
<text x="797.2" y="710.3" font-size="4.1" fill="#555" textLength="12.3" lengthAdjust="spacingAndGlyphs">Project</text>
<text x="835.9" y="710.3" font-size="4.1" fill="#555" textLength="62.7" lengthAdjust="spacingAndGlyphs">De Nieuwe Waterfront / Villa Marie</text>
<text x="721.9" y="716.6999999999999" font-size="4.1" fill="#555" textLength="13.5" lengthAdjust="spacingAndGlyphs">Formaat</text>
<text x="761.4" y="716.6999999999999" font-size="4.1" fill="#555" textLength="4.9" lengthAdjust="spacingAndGlyphs">A2</text>
<text x="797.2" y="716.6999999999999" font-size="4.1" fill="#555" textLength="11.8" lengthAdjust="spacingAndGlyphs">Betreft</text>
<text x="835.9" y="716.6999999999999" font-size="4.1" fill="#555" textLength="53.6" lengthAdjust="spacingAndGlyphs">Concept, Verkoopstekeningen</text>
<text x="754.6" y="703.6999999999999" font-size="4" fill="#888">:</text><text x="829.9" y="703.6999999999999" font-size="4" fill="#888">:</text>
<text x="754.6" y="710.1999999999999" font-size="4" fill="#888">:</text><text x="829.9" y="710.1999999999999" font-size="4" fill="#888">:</text>
<text x="754.6" y="716.5999999999999" font-size="4" fill="#888">:</text><text x="829.9" y="716.5999999999999" font-size="4" fill="#888">:</text>
<circle cx="913" cy="702.6" r="11.4" fill="none" stroke="#2a3890" stroke-width="2.4"/>
<path d="M907.4,691.4 C914,689.6 920.5,692 924,697.6 C919.5,697.9 915.5,700 912.4,703.4 C910.2,705.8 907.6,707.4 904.8,707.9 C907.8,705.6 910.4,702.6 910.1,699.2 C909.8,696.2 908.8,693.5 907.4,691.4 Z" fill="#3040aa"/>
<text x="927.6" y="700.8" font-size="11.6" font-weight="bold" fill="#2a3890" textLength="62.9" lengthAdjust="spacingAndGlyphs">SPRINGTIJ</text>
<text x="927.6" y="712.9" font-size="11.6" font-weight="bold" fill="#2a3890" textLength="85.8" lengthAdjust="spacingAndGlyphs">ARCHITECTEN</text>
</svg></body></html>
